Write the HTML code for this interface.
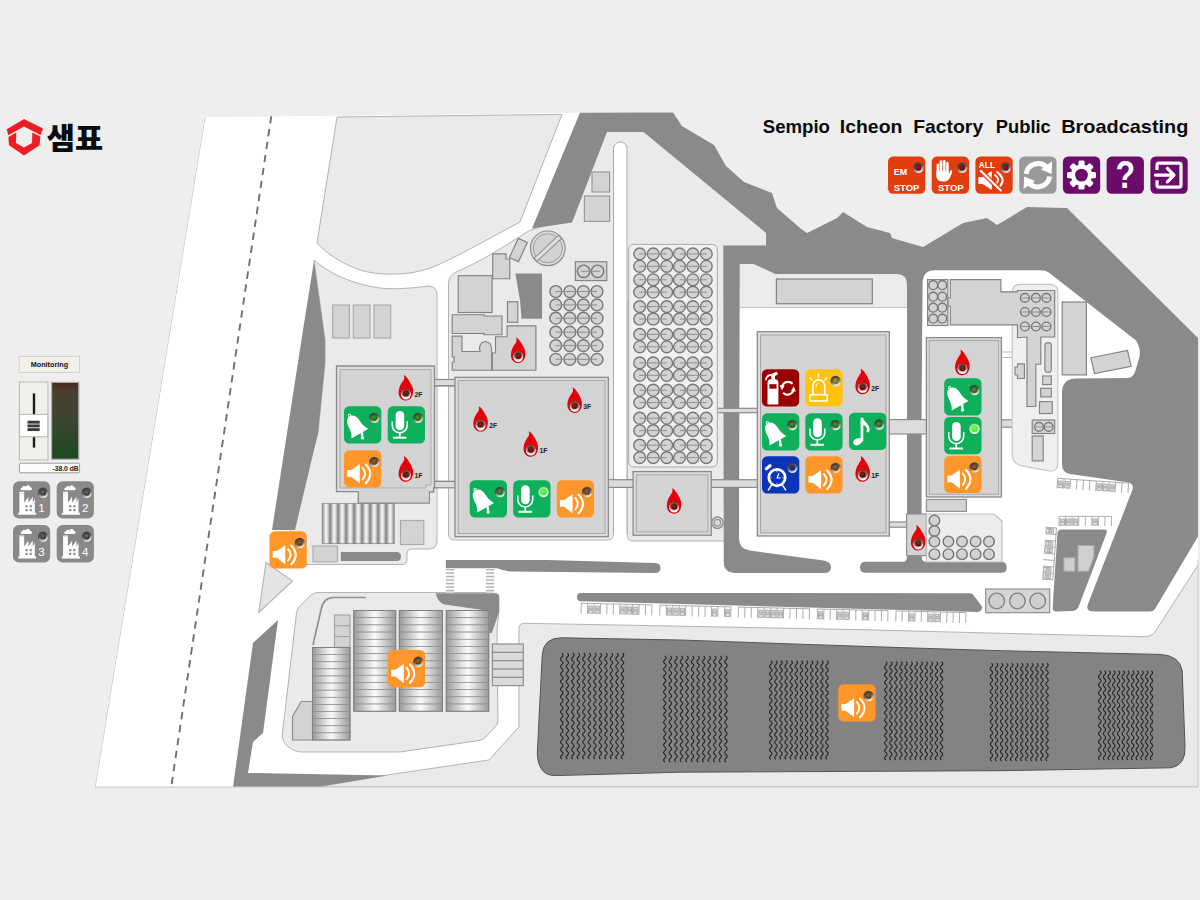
<!DOCTYPE html>
<html lang="ko"><head><meta charset="utf-8"><title>Sempio Icheon Factory Public Broadcasting</title>
<style>
html,body{margin:0;padding:0;background:#eeeeee;overflow:hidden}
body{width:1200px;height:900px;font-family:"Liberation Sans","Noto Sans CJK KR",sans-serif}
svg{display:block}
text{font-family:"Liberation Sans","Noto Sans CJK KR",sans-serif}
</style></head><body>
<svg width="1200" height="900" viewBox="0 0 1200 900">
<defs>
<linearGradient id="gv" x1="0" y1="0" x2="1" y2="0"><stop offset="0" stop-color="#8e8e8e"/><stop offset="0.5" stop-color="#fafafa"/><stop offset="1" stop-color="#8e8e8e"/></linearGradient>
<linearGradient id="gh" x1="0" y1="0" x2="1" y2="0"><stop offset="0" stop-color="#9a9a9a"/><stop offset="0.5" stop-color="#fbfbfb"/><stop offset="1" stop-color="#9a9a9a"/></linearGradient>
<clipPath id="mapclip"><polygon points="205,117 580,112.6 1198,107 1198,787 95,787"/></clipPath>
</defs>
<rect width="1200" height="900" fill="#eeeeee"/>
<g clip-path="url(#mapclip)">
<polygon points="205,117 580,112.6 673,112.6 682,126 714,145 726,166 744,182 772,193 777,208 800,228 807,233 837,218 843,212 867,227 890,233 892,238 923,247 963,223 987,218 997,225 1027,207 1067,208 1200,340 1200,787 95,787" fill="#ffffff" stroke="none" stroke-width="0"/>
<line x1="205" y1="117" x2="95" y2="787" stroke="#b8b8b8" stroke-width="1"/>
<line x1="271.3" y1="116" x2="171.2" y2="787" stroke="#707070" stroke-width="1.9" stroke-dasharray="7.4 5.7"/>
<path d="M337,117 L562,114.4 L520,222 C490,238 455,258 433,267 C410,276 380,276 360,270 C340,263 325,252 317,243 Z" fill="#eaeaea" stroke="#ababab" stroke-width="0.9"/>
<path d="M314,260 C330,274 352,284 380,288 C400,290 420,287 428,286 Q437,286 437,295 L437,541 Q437,549 429,549 L411,549 Q407,549 407,553 L407,560 Q407,564.5 402,564.5 L296,564.5 L290,530 L318,433 L325,363 L325,340 Z" fill="#eaeaea" stroke="#ababab" stroke-width="0.9"/>
<path d="M448.5,534 L448.5,284 Q448.5,275 457,271.5 C480,262 505,246 528.7,231 L545,225 L600,128 L650,128 L772,236 L772,252 L726,252 L726,541 L633,541 Q627,541 627,535 L627,300 L613.5,300 L613.5,534 Q613.5,540 607.5,540 L454.5,540 Q448.5,540 448.5,534 Z" fill="#eaeaea" stroke="#ababab" stroke-width="0.9"/>
<path d="M613.5,548 L613.5,148.7 A6.75,6.75 0 0 1 627,148.7 L627,548 Z" fill="#fff" stroke="none" stroke-width="0"/>
<path d="M613.5,535 L613.5,148.7 A6.75,6.75 0 0 1 627,148.7 L627,535" fill="none" stroke="#ababab" stroke-width="1"/>
<path d="M739.75,307.4 L739.75,262 L907,262 L907,307.4 Z" fill="#ebebeb" stroke="none" stroke-width="0"/>
<line x1="739.75" y1="307.4" x2="907" y2="307.4" stroke="#c2c2c2" stroke-width="1"/>
<path d="M317,787 L387,775 L489,760 L518.9,727 L518.9,629 Q518.9,623 525,623.3 L680,626.2 L860,629.6 L1000,633.3 L1144.4,636.7 Q1152,636.7 1155.6,631 L1200,562 L1200,787 Z" fill="#eaeaea" stroke="#ababab" stroke-width="0.9"/>
<path d="M310.88,595.29 Q313.75,592.5 317.75,592.5 L490.73,592.5 Q494,592.5 496.38,594.75 L497.3,595.62 Q498.75,597 498.75,599 L498.75,610.5 Q498.75,612.5 498.55,614.49 L497.2,628.01 Q497,630 497.02,632 L497.96,720 Q498,724 495.26,726.92 L485.74,737.08 Q483,740 479.04,740.57 L402.97,751.57 Q400,752 397,752 L302.33,752 Q294,752 287.75,746.5 L287.51,746.29 Q281.5,741 282.43,733.05 L296.53,612.72 Q297,608.75 299.87,605.96 Z" fill="#eaeaea" stroke="#ababab" stroke-width="0.9"/>
<polygon points="266,562.5 292.5,581 258.8,612.5" fill="#e4e4e4" stroke="#b5b5b5" stroke-width="1.15"/>
<polygon points="314,261 325,340 325,363 318,433 295,530 272,530 303,330" fill="#8a8a8a" stroke="none" stroke-width="0"/>
<polygon points="278,620 253,643 233,787 317,787 387,775.5 248,773 253,742 263,733" fill="#8a8a8a" stroke="none" stroke-width="0"/>
<path d="M580,112.6 L673,112.6 L682,126 L714,145 L726,166 L744,182 L772,193 L777,208 L800,228 L807,233 L837,218 L843,212 L867,227 L890,233 L892,238 L923,247 L963,223 L987,218 L997,225 L1027,207 L1067,208 L1200,340 L1200,533 L1155,609 Q1153,611.5 1150,611.5 L1094,611.5 Q1085,611.5 1088,604 L1132,491 Q1135,483.5 1127,482.3 L1070,474 Q1062,472.5 1062,464 L1062,393 Q1062,378.5 1076,378.5 L1128,378 Q1133,377.5 1135,372 L1139.5,357 Q1141,348 1136,340.6 L1050,273.5 Q1046,270.3 1040,270.3 L935,270.3 Q923,270.3 922.6,282.7 L921.6,400 L907,400 L907,285 Q907,274 896.5,274 L775.5,274 L753.5,264 L739.75,264 L739,538 Q739,549 750,550.6 L822,560.3 Q831,561.5 831,567 Q831,573 824,573 L736,573 Q723.75,573 723.75,562 L723.25,245.4 L766,245.4 L766,233 L643.5,132 L607,132 L572,222.6 L532,228.5 Z" fill="#8a8a8a" stroke="none" stroke-width="0"/>
<rect x="907" y="399" width="14.6" height="115.5" fill="#8a8a8a" stroke="none" stroke-width="0"/>
<rect x="907" y="555" width="14.6" height="11" fill="#8a8a8a" stroke="none" stroke-width="0"/>
<path d="M903,562 Q907,562 907,556 L921.6,556 Q921.6,562 926.5,562 Z" fill="#8a8a8a" stroke="none" stroke-width="0"/>
<path d="M445.8,560 L546.7,560 L655,563 Q660.5,563.2 660.5,568 Q660.5,573 655,573 L513.3,571.6 Q505,571.5 497,568.3 L445.8,568.3 Z" fill="#8a8a8a" stroke="none" stroke-width="0"/>
<path d="M860,567.2 Q860,561.7 865.5,561.7 L1001.2,561.7 Q1006.7,561.7 1006.7,567.2 L1006.7,567.2 Q1006.7,572.7 1001.2,572.7 L865.5,572.7 Q860,572.7 860,567.2 Z" fill="#8a8a8a" stroke="none" stroke-width="0"/>
<path d="M577,597 Q577,593 581,593 L970,593.2 Q972,593.2 973.19,594.81 L981.41,605.87 Q983,608 981.25,610 L980.82,610.49 Q979.5,612 977.5,611.95 L581,601.31 Q577,601.2 577,597.2 Z" fill="#8a8a8a" stroke="none" stroke-width="0"/>
<path d="M340.8,552 L396.5,552 Q401,552 401,556.5 L401,556.5 Q401,561 396.5,561 L340.8,561 Z" fill="#8a8a8a" stroke="none" stroke-width="0"/>
<path d="M1057.44,533.59 Q1057.7,529.6 1061.7,529.6 L1104,529.6 Q1108,529.6 1106.58,533.34 L1078.78,606.33 Q1077,611 1072,611.1 L1056.4,611.42 Q1052.4,611.5 1052.66,607.51 Z" fill="#8a8a8a" stroke="none" stroke-width="0"/>
<rect x="1063.9" y="557.8" width="11" height="13.4" fill="#cfcfcf" stroke="#aaa" stroke-width="1.15"/>
<polygon points="1078,545.5 1093.9,545.5 1093.9,557 1088.5,571.2 1078,571.2" fill="#cfcfcf" stroke="#aaa" stroke-width="1.15"/>
<polygon points="515.3,273.4 542,273.4 542,318.8 521.5,318.8 520,300" fill="#8a8a8a" stroke="none" stroke-width="0"/>
<path d="M562,637.8 L680,640 L800,644.2 L900,647.6 L1000,650.7 L1160,654.4 Q1180,655.5 1182.2,671 L1185,746.7 Q1186,765 1171,767.8 L1000,770.7 L680,772.2 L556,775.6 Q538,776 537.3,753.3 L542.2,655.6 Q543,637.5 562,637.8 Z" fill="#838383" stroke="#555555" stroke-width="1"/>
<path d="M561.8,653.3 Q564.3,655.19 561.8,657.07 Q559.3,658.96 561.8,660.85 Q564.3,662.74 561.8,664.62 Q559.3,666.51 561.8,668.4 Q564.3,670.29 561.8,672.17 Q559.3,674.06 561.8,675.95 Q564.3,677.84 561.8,679.72 Q559.3,681.61 561.8,683.5 Q564.3,685.39 561.8,687.27 Q559.3,689.16 561.8,691.05 Q564.3,692.94 561.8,694.82 Q559.3,696.71 561.8,698.6 Q564.3,700.49 561.8,702.38 Q559.3,704.26 561.8,706.15 Q564.3,708.04 561.8,709.92 Q559.3,711.81 561.8,713.7 Q564.3,715.59 561.8,717.47 Q559.3,719.36 561.8,721.25 Q564.3,723.14 561.8,725.02 Q559.3,726.91 561.8,728.8 Q564.3,730.69 561.8,732.57 Q559.3,734.46 561.8,736.35 Q564.3,738.24 561.8,740.12 Q559.3,742.01 561.8,743.9 Q564.3,745.79 561.8,747.67 Q559.3,749.56 561.8,751.45 Q564.3,753.34 561.8,755.23 Q559.3,757.11 561.8,759" fill="none" stroke="#262626" stroke-width="1.15"/>
<path d="M567.32,653.3 Q569.82,655.19 567.32,657.07 Q564.82,658.96 567.32,660.85 Q569.82,662.74 567.32,664.62 Q564.82,666.51 567.32,668.4 Q569.82,670.29 567.32,672.17 Q564.82,674.06 567.32,675.95 Q569.82,677.84 567.32,679.72 Q564.82,681.61 567.32,683.5 Q569.82,685.39 567.32,687.27 Q564.82,689.16 567.32,691.05 Q569.82,692.94 567.32,694.82 Q564.82,696.71 567.32,698.6 Q569.82,700.49 567.32,702.38 Q564.82,704.26 567.32,706.15 Q569.82,708.04 567.32,709.92 Q564.82,711.81 567.32,713.7 Q569.82,715.59 567.32,717.47 Q564.82,719.36 567.32,721.25 Q569.82,723.14 567.32,725.02 Q564.82,726.91 567.32,728.8 Q569.82,730.69 567.32,732.57 Q564.82,734.46 567.32,736.35 Q569.82,738.24 567.32,740.12 Q564.82,742.01 567.32,743.9 Q569.82,745.79 567.32,747.67 Q564.82,749.56 567.32,751.45 Q569.82,753.34 567.32,755.23 Q564.82,757.11 567.32,759" fill="none" stroke="#262626" stroke-width="1.15"/>
<path d="M572.84,653.3 Q575.34,655.19 572.84,657.07 Q570.34,658.96 572.84,660.85 Q575.34,662.74 572.84,664.62 Q570.34,666.51 572.84,668.4 Q575.34,670.29 572.84,672.17 Q570.34,674.06 572.84,675.95 Q575.34,677.84 572.84,679.72 Q570.34,681.61 572.84,683.5 Q575.34,685.39 572.84,687.27 Q570.34,689.16 572.84,691.05 Q575.34,692.94 572.84,694.82 Q570.34,696.71 572.84,698.6 Q575.34,700.49 572.84,702.38 Q570.34,704.26 572.84,706.15 Q575.34,708.04 572.84,709.92 Q570.34,711.81 572.84,713.7 Q575.34,715.59 572.84,717.47 Q570.34,719.36 572.84,721.25 Q575.34,723.14 572.84,725.02 Q570.34,726.91 572.84,728.8 Q575.34,730.69 572.84,732.57 Q570.34,734.46 572.84,736.35 Q575.34,738.24 572.84,740.12 Q570.34,742.01 572.84,743.9 Q575.34,745.79 572.84,747.67 Q570.34,749.56 572.84,751.45 Q575.34,753.34 572.84,755.23 Q570.34,757.11 572.84,759" fill="none" stroke="#262626" stroke-width="1.15"/>
<path d="M578.35,653.3 Q580.85,655.19 578.35,657.07 Q575.85,658.96 578.35,660.85 Q580.85,662.74 578.35,664.62 Q575.85,666.51 578.35,668.4 Q580.85,670.29 578.35,672.17 Q575.85,674.06 578.35,675.95 Q580.85,677.84 578.35,679.72 Q575.85,681.61 578.35,683.5 Q580.85,685.39 578.35,687.27 Q575.85,689.16 578.35,691.05 Q580.85,692.94 578.35,694.82 Q575.85,696.71 578.35,698.6 Q580.85,700.49 578.35,702.38 Q575.85,704.26 578.35,706.15 Q580.85,708.04 578.35,709.92 Q575.85,711.81 578.35,713.7 Q580.85,715.59 578.35,717.47 Q575.85,719.36 578.35,721.25 Q580.85,723.14 578.35,725.02 Q575.85,726.91 578.35,728.8 Q580.85,730.69 578.35,732.57 Q575.85,734.46 578.35,736.35 Q580.85,738.24 578.35,740.12 Q575.85,742.01 578.35,743.9 Q580.85,745.79 578.35,747.67 Q575.85,749.56 578.35,751.45 Q580.85,753.34 578.35,755.23 Q575.85,757.11 578.35,759" fill="none" stroke="#262626" stroke-width="1.15"/>
<path d="M583.87,653.3 Q586.37,655.19 583.87,657.07 Q581.37,658.96 583.87,660.85 Q586.37,662.74 583.87,664.62 Q581.37,666.51 583.87,668.4 Q586.37,670.29 583.87,672.17 Q581.37,674.06 583.87,675.95 Q586.37,677.84 583.87,679.72 Q581.37,681.61 583.87,683.5 Q586.37,685.39 583.87,687.27 Q581.37,689.16 583.87,691.05 Q586.37,692.94 583.87,694.82 Q581.37,696.71 583.87,698.6 Q586.37,700.49 583.87,702.38 Q581.37,704.26 583.87,706.15 Q586.37,708.04 583.87,709.92 Q581.37,711.81 583.87,713.7 Q586.37,715.59 583.87,717.47 Q581.37,719.36 583.87,721.25 Q586.37,723.14 583.87,725.02 Q581.37,726.91 583.87,728.8 Q586.37,730.69 583.87,732.57 Q581.37,734.46 583.87,736.35 Q586.37,738.24 583.87,740.12 Q581.37,742.01 583.87,743.9 Q586.37,745.79 583.87,747.67 Q581.37,749.56 583.87,751.45 Q586.37,753.34 583.87,755.23 Q581.37,757.11 583.87,759" fill="none" stroke="#262626" stroke-width="1.15"/>
<path d="M589.39,653.3 Q591.89,655.19 589.39,657.07 Q586.89,658.96 589.39,660.85 Q591.89,662.74 589.39,664.62 Q586.89,666.51 589.39,668.4 Q591.89,670.29 589.39,672.17 Q586.89,674.06 589.39,675.95 Q591.89,677.84 589.39,679.72 Q586.89,681.61 589.39,683.5 Q591.89,685.39 589.39,687.27 Q586.89,689.16 589.39,691.05 Q591.89,692.94 589.39,694.82 Q586.89,696.71 589.39,698.6 Q591.89,700.49 589.39,702.38 Q586.89,704.26 589.39,706.15 Q591.89,708.04 589.39,709.92 Q586.89,711.81 589.39,713.7 Q591.89,715.59 589.39,717.47 Q586.89,719.36 589.39,721.25 Q591.89,723.14 589.39,725.02 Q586.89,726.91 589.39,728.8 Q591.89,730.69 589.39,732.57 Q586.89,734.46 589.39,736.35 Q591.89,738.24 589.39,740.12 Q586.89,742.01 589.39,743.9 Q591.89,745.79 589.39,747.67 Q586.89,749.56 589.39,751.45 Q591.89,753.34 589.39,755.23 Q586.89,757.11 589.39,759" fill="none" stroke="#262626" stroke-width="1.15"/>
<path d="M594.91,653.3 Q597.41,655.19 594.91,657.07 Q592.41,658.96 594.91,660.85 Q597.41,662.74 594.91,664.62 Q592.41,666.51 594.91,668.4 Q597.41,670.29 594.91,672.17 Q592.41,674.06 594.91,675.95 Q597.41,677.84 594.91,679.72 Q592.41,681.61 594.91,683.5 Q597.41,685.39 594.91,687.27 Q592.41,689.16 594.91,691.05 Q597.41,692.94 594.91,694.82 Q592.41,696.71 594.91,698.6 Q597.41,700.49 594.91,702.38 Q592.41,704.26 594.91,706.15 Q597.41,708.04 594.91,709.92 Q592.41,711.81 594.91,713.7 Q597.41,715.59 594.91,717.47 Q592.41,719.36 594.91,721.25 Q597.41,723.14 594.91,725.02 Q592.41,726.91 594.91,728.8 Q597.41,730.69 594.91,732.57 Q592.41,734.46 594.91,736.35 Q597.41,738.24 594.91,740.12 Q592.41,742.01 594.91,743.9 Q597.41,745.79 594.91,747.67 Q592.41,749.56 594.91,751.45 Q597.41,753.34 594.91,755.23 Q592.41,757.11 594.91,759" fill="none" stroke="#262626" stroke-width="1.15"/>
<path d="M600.43,653.3 Q602.93,655.19 600.43,657.07 Q597.93,658.96 600.43,660.85 Q602.93,662.74 600.43,664.62 Q597.93,666.51 600.43,668.4 Q602.93,670.29 600.43,672.17 Q597.93,674.06 600.43,675.95 Q602.93,677.84 600.43,679.72 Q597.93,681.61 600.43,683.5 Q602.93,685.39 600.43,687.27 Q597.93,689.16 600.43,691.05 Q602.93,692.94 600.43,694.82 Q597.93,696.71 600.43,698.6 Q602.93,700.49 600.43,702.38 Q597.93,704.26 600.43,706.15 Q602.93,708.04 600.43,709.92 Q597.93,711.81 600.43,713.7 Q602.93,715.59 600.43,717.47 Q597.93,719.36 600.43,721.25 Q602.93,723.14 600.43,725.02 Q597.93,726.91 600.43,728.8 Q602.93,730.69 600.43,732.57 Q597.93,734.46 600.43,736.35 Q602.93,738.24 600.43,740.12 Q597.93,742.01 600.43,743.9 Q602.93,745.79 600.43,747.67 Q597.93,749.56 600.43,751.45 Q602.93,753.34 600.43,755.23 Q597.93,757.11 600.43,759" fill="none" stroke="#262626" stroke-width="1.15"/>
<path d="M605.95,653.3 Q608.45,655.19 605.95,657.07 Q603.45,658.96 605.95,660.85 Q608.45,662.74 605.95,664.62 Q603.45,666.51 605.95,668.4 Q608.45,670.29 605.95,672.17 Q603.45,674.06 605.95,675.95 Q608.45,677.84 605.95,679.72 Q603.45,681.61 605.95,683.5 Q608.45,685.39 605.95,687.27 Q603.45,689.16 605.95,691.05 Q608.45,692.94 605.95,694.82 Q603.45,696.71 605.95,698.6 Q608.45,700.49 605.95,702.38 Q603.45,704.26 605.95,706.15 Q608.45,708.04 605.95,709.92 Q603.45,711.81 605.95,713.7 Q608.45,715.59 605.95,717.47 Q603.45,719.36 605.95,721.25 Q608.45,723.14 605.95,725.02 Q603.45,726.91 605.95,728.8 Q608.45,730.69 605.95,732.57 Q603.45,734.46 605.95,736.35 Q608.45,738.24 605.95,740.12 Q603.45,742.01 605.95,743.9 Q608.45,745.79 605.95,747.67 Q603.45,749.56 605.95,751.45 Q608.45,753.34 605.95,755.23 Q603.45,757.11 605.95,759" fill="none" stroke="#262626" stroke-width="1.15"/>
<path d="M611.46,653.3 Q613.96,655.19 611.46,657.07 Q608.96,658.96 611.46,660.85 Q613.96,662.74 611.46,664.62 Q608.96,666.51 611.46,668.4 Q613.96,670.29 611.46,672.17 Q608.96,674.06 611.46,675.95 Q613.96,677.84 611.46,679.72 Q608.96,681.61 611.46,683.5 Q613.96,685.39 611.46,687.27 Q608.96,689.16 611.46,691.05 Q613.96,692.94 611.46,694.82 Q608.96,696.71 611.46,698.6 Q613.96,700.49 611.46,702.38 Q608.96,704.26 611.46,706.15 Q613.96,708.04 611.46,709.92 Q608.96,711.81 611.46,713.7 Q613.96,715.59 611.46,717.47 Q608.96,719.36 611.46,721.25 Q613.96,723.14 611.46,725.02 Q608.96,726.91 611.46,728.8 Q613.96,730.69 611.46,732.57 Q608.96,734.46 611.46,736.35 Q613.96,738.24 611.46,740.12 Q608.96,742.01 611.46,743.9 Q613.96,745.79 611.46,747.67 Q608.96,749.56 611.46,751.45 Q613.96,753.34 611.46,755.23 Q608.96,757.11 611.46,759" fill="none" stroke="#262626" stroke-width="1.15"/>
<path d="M616.98,653.3 Q619.48,655.19 616.98,657.07 Q614.48,658.96 616.98,660.85 Q619.48,662.74 616.98,664.62 Q614.48,666.51 616.98,668.4 Q619.48,670.29 616.98,672.17 Q614.48,674.06 616.98,675.95 Q619.48,677.84 616.98,679.72 Q614.48,681.61 616.98,683.5 Q619.48,685.39 616.98,687.27 Q614.48,689.16 616.98,691.05 Q619.48,692.94 616.98,694.82 Q614.48,696.71 616.98,698.6 Q619.48,700.49 616.98,702.38 Q614.48,704.26 616.98,706.15 Q619.48,708.04 616.98,709.92 Q614.48,711.81 616.98,713.7 Q619.48,715.59 616.98,717.47 Q614.48,719.36 616.98,721.25 Q619.48,723.14 616.98,725.02 Q614.48,726.91 616.98,728.8 Q619.48,730.69 616.98,732.57 Q614.48,734.46 616.98,736.35 Q619.48,738.24 616.98,740.12 Q614.48,742.01 616.98,743.9 Q619.48,745.79 616.98,747.67 Q614.48,749.56 616.98,751.45 Q619.48,753.34 616.98,755.23 Q614.48,757.11 616.98,759" fill="none" stroke="#262626" stroke-width="1.15"/>
<path d="M622.5,653.3 Q625,655.19 622.5,657.07 Q620,658.96 622.5,660.85 Q625,662.74 622.5,664.62 Q620,666.51 622.5,668.4 Q625,670.29 622.5,672.17 Q620,674.06 622.5,675.95 Q625,677.84 622.5,679.72 Q620,681.61 622.5,683.5 Q625,685.39 622.5,687.27 Q620,689.16 622.5,691.05 Q625,692.94 622.5,694.82 Q620,696.71 622.5,698.6 Q625,700.49 622.5,702.38 Q620,704.26 622.5,706.15 Q625,708.04 622.5,709.92 Q620,711.81 622.5,713.7 Q625,715.59 622.5,717.47 Q620,719.36 622.5,721.25 Q625,723.14 622.5,725.02 Q620,726.91 622.5,728.8 Q625,730.69 622.5,732.57 Q620,734.46 622.5,736.35 Q625,738.24 622.5,740.12 Q620,742.01 622.5,743.9 Q625,745.79 622.5,747.67 Q620,749.56 622.5,751.45 Q625,753.34 622.5,755.23 Q620,757.11 622.5,759" fill="none" stroke="#262626" stroke-width="1.15"/>
<path d="M664.8,656 Q667.3,657.89 664.8,659.79 Q662.3,661.68 664.8,663.57 Q667.3,665.46 664.8,667.36 Q662.3,669.25 664.8,671.14 Q667.3,673.04 664.8,674.93 Q662.3,676.82 664.8,678.71 Q667.3,680.61 664.8,682.5 Q662.3,684.39 664.8,686.29 Q667.3,688.18 664.8,690.07 Q662.3,691.96 664.8,693.86 Q667.3,695.75 664.8,697.64 Q662.3,699.54 664.8,701.43 Q667.3,703.32 664.8,705.21 Q662.3,707.11 664.8,709 Q667.3,710.89 664.8,712.79 Q662.3,714.68 664.8,716.57 Q667.3,718.46 664.8,720.36 Q662.3,722.25 664.8,724.14 Q667.3,726.04 664.8,727.93 Q662.3,729.82 664.8,731.71 Q667.3,733.61 664.8,735.5 Q662.3,737.39 664.8,739.29 Q667.3,741.18 664.8,743.07 Q662.3,744.96 664.8,746.86 Q667.3,748.75 664.8,750.64 Q662.3,752.54 664.8,754.43 Q667.3,756.32 664.8,758.21 Q662.3,760.11 664.8,762" fill="none" stroke="#262626" stroke-width="1.15"/>
<path d="M670.35,656 Q672.85,657.89 670.35,659.79 Q667.85,661.68 670.35,663.57 Q672.85,665.46 670.35,667.36 Q667.85,669.25 670.35,671.14 Q672.85,673.04 670.35,674.93 Q667.85,676.82 670.35,678.71 Q672.85,680.61 670.35,682.5 Q667.85,684.39 670.35,686.29 Q672.85,688.18 670.35,690.07 Q667.85,691.96 670.35,693.86 Q672.85,695.75 670.35,697.64 Q667.85,699.54 670.35,701.43 Q672.85,703.32 670.35,705.21 Q667.85,707.11 670.35,709 Q672.85,710.89 670.35,712.79 Q667.85,714.68 670.35,716.57 Q672.85,718.46 670.35,720.36 Q667.85,722.25 670.35,724.14 Q672.85,726.04 670.35,727.93 Q667.85,729.82 670.35,731.71 Q672.85,733.61 670.35,735.5 Q667.85,737.39 670.35,739.29 Q672.85,741.18 670.35,743.07 Q667.85,744.96 670.35,746.86 Q672.85,748.75 670.35,750.64 Q667.85,752.54 670.35,754.43 Q672.85,756.32 670.35,758.21 Q667.85,760.11 670.35,762" fill="none" stroke="#262626" stroke-width="1.15"/>
<path d="M675.91,656 Q678.41,657.89 675.91,659.79 Q673.41,661.68 675.91,663.57 Q678.41,665.46 675.91,667.36 Q673.41,669.25 675.91,671.14 Q678.41,673.04 675.91,674.93 Q673.41,676.82 675.91,678.71 Q678.41,680.61 675.91,682.5 Q673.41,684.39 675.91,686.29 Q678.41,688.18 675.91,690.07 Q673.41,691.96 675.91,693.86 Q678.41,695.75 675.91,697.64 Q673.41,699.54 675.91,701.43 Q678.41,703.32 675.91,705.21 Q673.41,707.11 675.91,709 Q678.41,710.89 675.91,712.79 Q673.41,714.68 675.91,716.57 Q678.41,718.46 675.91,720.36 Q673.41,722.25 675.91,724.14 Q678.41,726.04 675.91,727.93 Q673.41,729.82 675.91,731.71 Q678.41,733.61 675.91,735.5 Q673.41,737.39 675.91,739.29 Q678.41,741.18 675.91,743.07 Q673.41,744.96 675.91,746.86 Q678.41,748.75 675.91,750.64 Q673.41,752.54 675.91,754.43 Q678.41,756.32 675.91,758.21 Q673.41,760.11 675.91,762" fill="none" stroke="#262626" stroke-width="1.15"/>
<path d="M681.46,656 Q683.96,657.89 681.46,659.79 Q678.96,661.68 681.46,663.57 Q683.96,665.46 681.46,667.36 Q678.96,669.25 681.46,671.14 Q683.96,673.04 681.46,674.93 Q678.96,676.82 681.46,678.71 Q683.96,680.61 681.46,682.5 Q678.96,684.39 681.46,686.29 Q683.96,688.18 681.46,690.07 Q678.96,691.96 681.46,693.86 Q683.96,695.75 681.46,697.64 Q678.96,699.54 681.46,701.43 Q683.96,703.32 681.46,705.21 Q678.96,707.11 681.46,709 Q683.96,710.89 681.46,712.79 Q678.96,714.68 681.46,716.57 Q683.96,718.46 681.46,720.36 Q678.96,722.25 681.46,724.14 Q683.96,726.04 681.46,727.93 Q678.96,729.82 681.46,731.71 Q683.96,733.61 681.46,735.5 Q678.96,737.39 681.46,739.29 Q683.96,741.18 681.46,743.07 Q678.96,744.96 681.46,746.86 Q683.96,748.75 681.46,750.64 Q678.96,752.54 681.46,754.43 Q683.96,756.32 681.46,758.21 Q678.96,760.11 681.46,762" fill="none" stroke="#262626" stroke-width="1.15"/>
<path d="M687.02,656 Q689.52,657.89 687.02,659.79 Q684.52,661.68 687.02,663.57 Q689.52,665.46 687.02,667.36 Q684.52,669.25 687.02,671.14 Q689.52,673.04 687.02,674.93 Q684.52,676.82 687.02,678.71 Q689.52,680.61 687.02,682.5 Q684.52,684.39 687.02,686.29 Q689.52,688.18 687.02,690.07 Q684.52,691.96 687.02,693.86 Q689.52,695.75 687.02,697.64 Q684.52,699.54 687.02,701.43 Q689.52,703.32 687.02,705.21 Q684.52,707.11 687.02,709 Q689.52,710.89 687.02,712.79 Q684.52,714.68 687.02,716.57 Q689.52,718.46 687.02,720.36 Q684.52,722.25 687.02,724.14 Q689.52,726.04 687.02,727.93 Q684.52,729.82 687.02,731.71 Q689.52,733.61 687.02,735.5 Q684.52,737.39 687.02,739.29 Q689.52,741.18 687.02,743.07 Q684.52,744.96 687.02,746.86 Q689.52,748.75 687.02,750.64 Q684.52,752.54 687.02,754.43 Q689.52,756.32 687.02,758.21 Q684.52,760.11 687.02,762" fill="none" stroke="#262626" stroke-width="1.15"/>
<path d="M692.57,656 Q695.07,657.89 692.57,659.79 Q690.07,661.68 692.57,663.57 Q695.07,665.46 692.57,667.36 Q690.07,669.25 692.57,671.14 Q695.07,673.04 692.57,674.93 Q690.07,676.82 692.57,678.71 Q695.07,680.61 692.57,682.5 Q690.07,684.39 692.57,686.29 Q695.07,688.18 692.57,690.07 Q690.07,691.96 692.57,693.86 Q695.07,695.75 692.57,697.64 Q690.07,699.54 692.57,701.43 Q695.07,703.32 692.57,705.21 Q690.07,707.11 692.57,709 Q695.07,710.89 692.57,712.79 Q690.07,714.68 692.57,716.57 Q695.07,718.46 692.57,720.36 Q690.07,722.25 692.57,724.14 Q695.07,726.04 692.57,727.93 Q690.07,729.82 692.57,731.71 Q695.07,733.61 692.57,735.5 Q690.07,737.39 692.57,739.29 Q695.07,741.18 692.57,743.07 Q690.07,744.96 692.57,746.86 Q695.07,748.75 692.57,750.64 Q690.07,752.54 692.57,754.43 Q695.07,756.32 692.57,758.21 Q690.07,760.11 692.57,762" fill="none" stroke="#262626" stroke-width="1.15"/>
<path d="M698.13,656 Q700.63,657.89 698.13,659.79 Q695.63,661.68 698.13,663.57 Q700.63,665.46 698.13,667.36 Q695.63,669.25 698.13,671.14 Q700.63,673.04 698.13,674.93 Q695.63,676.82 698.13,678.71 Q700.63,680.61 698.13,682.5 Q695.63,684.39 698.13,686.29 Q700.63,688.18 698.13,690.07 Q695.63,691.96 698.13,693.86 Q700.63,695.75 698.13,697.64 Q695.63,699.54 698.13,701.43 Q700.63,703.32 698.13,705.21 Q695.63,707.11 698.13,709 Q700.63,710.89 698.13,712.79 Q695.63,714.68 698.13,716.57 Q700.63,718.46 698.13,720.36 Q695.63,722.25 698.13,724.14 Q700.63,726.04 698.13,727.93 Q695.63,729.82 698.13,731.71 Q700.63,733.61 698.13,735.5 Q695.63,737.39 698.13,739.29 Q700.63,741.18 698.13,743.07 Q695.63,744.96 698.13,746.86 Q700.63,748.75 698.13,750.64 Q695.63,752.54 698.13,754.43 Q700.63,756.32 698.13,758.21 Q695.63,760.11 698.13,762" fill="none" stroke="#262626" stroke-width="1.15"/>
<path d="M703.68,656 Q706.18,657.89 703.68,659.79 Q701.18,661.68 703.68,663.57 Q706.18,665.46 703.68,667.36 Q701.18,669.25 703.68,671.14 Q706.18,673.04 703.68,674.93 Q701.18,676.82 703.68,678.71 Q706.18,680.61 703.68,682.5 Q701.18,684.39 703.68,686.29 Q706.18,688.18 703.68,690.07 Q701.18,691.96 703.68,693.86 Q706.18,695.75 703.68,697.64 Q701.18,699.54 703.68,701.43 Q706.18,703.32 703.68,705.21 Q701.18,707.11 703.68,709 Q706.18,710.89 703.68,712.79 Q701.18,714.68 703.68,716.57 Q706.18,718.46 703.68,720.36 Q701.18,722.25 703.68,724.14 Q706.18,726.04 703.68,727.93 Q701.18,729.82 703.68,731.71 Q706.18,733.61 703.68,735.5 Q701.18,737.39 703.68,739.29 Q706.18,741.18 703.68,743.07 Q701.18,744.96 703.68,746.86 Q706.18,748.75 703.68,750.64 Q701.18,752.54 703.68,754.43 Q706.18,756.32 703.68,758.21 Q701.18,760.11 703.68,762" fill="none" stroke="#262626" stroke-width="1.15"/>
<path d="M709.24,656 Q711.74,657.89 709.24,659.79 Q706.74,661.68 709.24,663.57 Q711.74,665.46 709.24,667.36 Q706.74,669.25 709.24,671.14 Q711.74,673.04 709.24,674.93 Q706.74,676.82 709.24,678.71 Q711.74,680.61 709.24,682.5 Q706.74,684.39 709.24,686.29 Q711.74,688.18 709.24,690.07 Q706.74,691.96 709.24,693.86 Q711.74,695.75 709.24,697.64 Q706.74,699.54 709.24,701.43 Q711.74,703.32 709.24,705.21 Q706.74,707.11 709.24,709 Q711.74,710.89 709.24,712.79 Q706.74,714.68 709.24,716.57 Q711.74,718.46 709.24,720.36 Q706.74,722.25 709.24,724.14 Q711.74,726.04 709.24,727.93 Q706.74,729.82 709.24,731.71 Q711.74,733.61 709.24,735.5 Q706.74,737.39 709.24,739.29 Q711.74,741.18 709.24,743.07 Q706.74,744.96 709.24,746.86 Q711.74,748.75 709.24,750.64 Q706.74,752.54 709.24,754.43 Q711.74,756.32 709.24,758.21 Q706.74,760.11 709.24,762" fill="none" stroke="#262626" stroke-width="1.15"/>
<path d="M714.79,656 Q717.29,657.89 714.79,659.79 Q712.29,661.68 714.79,663.57 Q717.29,665.46 714.79,667.36 Q712.29,669.25 714.79,671.14 Q717.29,673.04 714.79,674.93 Q712.29,676.82 714.79,678.71 Q717.29,680.61 714.79,682.5 Q712.29,684.39 714.79,686.29 Q717.29,688.18 714.79,690.07 Q712.29,691.96 714.79,693.86 Q717.29,695.75 714.79,697.64 Q712.29,699.54 714.79,701.43 Q717.29,703.32 714.79,705.21 Q712.29,707.11 714.79,709 Q717.29,710.89 714.79,712.79 Q712.29,714.68 714.79,716.57 Q717.29,718.46 714.79,720.36 Q712.29,722.25 714.79,724.14 Q717.29,726.04 714.79,727.93 Q712.29,729.82 714.79,731.71 Q717.29,733.61 714.79,735.5 Q712.29,737.39 714.79,739.29 Q717.29,741.18 714.79,743.07 Q712.29,744.96 714.79,746.86 Q717.29,748.75 714.79,750.64 Q712.29,752.54 714.79,754.43 Q717.29,756.32 714.79,758.21 Q712.29,760.11 714.79,762" fill="none" stroke="#262626" stroke-width="1.15"/>
<path d="M720.35,656 Q722.85,657.89 720.35,659.79 Q717.85,661.68 720.35,663.57 Q722.85,665.46 720.35,667.36 Q717.85,669.25 720.35,671.14 Q722.85,673.04 720.35,674.93 Q717.85,676.82 720.35,678.71 Q722.85,680.61 720.35,682.5 Q717.85,684.39 720.35,686.29 Q722.85,688.18 720.35,690.07 Q717.85,691.96 720.35,693.86 Q722.85,695.75 720.35,697.64 Q717.85,699.54 720.35,701.43 Q722.85,703.32 720.35,705.21 Q717.85,707.11 720.35,709 Q722.85,710.89 720.35,712.79 Q717.85,714.68 720.35,716.57 Q722.85,718.46 720.35,720.36 Q717.85,722.25 720.35,724.14 Q722.85,726.04 720.35,727.93 Q717.85,729.82 720.35,731.71 Q722.85,733.61 720.35,735.5 Q717.85,737.39 720.35,739.29 Q722.85,741.18 720.35,743.07 Q717.85,744.96 720.35,746.86 Q722.85,748.75 720.35,750.64 Q717.85,752.54 720.35,754.43 Q722.85,756.32 720.35,758.21 Q717.85,760.11 720.35,762" fill="none" stroke="#262626" stroke-width="1.15"/>
<path d="M725.9,656 Q728.4,657.89 725.9,659.79 Q723.4,661.68 725.9,663.57 Q728.4,665.46 725.9,667.36 Q723.4,669.25 725.9,671.14 Q728.4,673.04 725.9,674.93 Q723.4,676.82 725.9,678.71 Q728.4,680.61 725.9,682.5 Q723.4,684.39 725.9,686.29 Q728.4,688.18 725.9,690.07 Q723.4,691.96 725.9,693.86 Q728.4,695.75 725.9,697.64 Q723.4,699.54 725.9,701.43 Q728.4,703.32 725.9,705.21 Q723.4,707.11 725.9,709 Q728.4,710.89 725.9,712.79 Q723.4,714.68 725.9,716.57 Q728.4,718.46 725.9,720.36 Q723.4,722.25 725.9,724.14 Q728.4,726.04 725.9,727.93 Q723.4,729.82 725.9,731.71 Q728.4,733.61 725.9,735.5 Q723.4,737.39 725.9,739.29 Q728.4,741.18 725.9,743.07 Q723.4,744.96 725.9,746.86 Q728.4,748.75 725.9,750.64 Q723.4,752.54 725.9,754.43 Q728.4,756.32 725.9,758.21 Q723.4,760.11 725.9,762" fill="none" stroke="#262626" stroke-width="1.15"/>
<path d="M770.8,660.7 Q773.3,662.6 770.8,664.49 Q768.3,666.39 770.8,668.28 Q773.3,670.18 770.8,672.08 Q768.3,673.97 770.8,675.87 Q773.3,677.77 770.8,679.66 Q768.3,681.56 770.8,683.45 Q773.3,685.35 770.8,687.25 Q768.3,689.14 770.8,691.04 Q773.3,692.93 770.8,694.83 Q768.3,696.73 770.8,698.62 Q773.3,700.52 770.8,702.42 Q768.3,704.31 770.8,706.21 Q773.3,708.1 770.8,710 Q768.3,711.9 770.8,713.79 Q773.3,715.69 770.8,717.58 Q768.3,719.48 770.8,721.38 Q773.3,723.27 770.8,725.17 Q768.3,727.07 770.8,728.96 Q773.3,730.86 770.8,732.75 Q768.3,734.65 770.8,736.55 Q773.3,738.44 770.8,740.34 Q768.3,742.23 770.8,744.13 Q773.3,746.03 770.8,747.92 Q768.3,749.82 770.8,751.72 Q773.3,753.61 770.8,755.51 Q768.3,757.4 770.8,759.3" fill="none" stroke="#262626" stroke-width="1.15"/>
<path d="M775.91,660.7 Q778.41,662.6 775.91,664.49 Q773.41,666.39 775.91,668.28 Q778.41,670.18 775.91,672.08 Q773.41,673.97 775.91,675.87 Q778.41,677.77 775.91,679.66 Q773.41,681.56 775.91,683.45 Q778.41,685.35 775.91,687.25 Q773.41,689.14 775.91,691.04 Q778.41,692.93 775.91,694.83 Q773.41,696.73 775.91,698.62 Q778.41,700.52 775.91,702.42 Q773.41,704.31 775.91,706.21 Q778.41,708.1 775.91,710 Q773.41,711.9 775.91,713.79 Q778.41,715.69 775.91,717.58 Q773.41,719.48 775.91,721.38 Q778.41,723.27 775.91,725.17 Q773.41,727.07 775.91,728.96 Q778.41,730.86 775.91,732.75 Q773.41,734.65 775.91,736.55 Q778.41,738.44 775.91,740.34 Q773.41,742.23 775.91,744.13 Q778.41,746.03 775.91,747.92 Q773.41,749.82 775.91,751.72 Q778.41,753.61 775.91,755.51 Q773.41,757.4 775.91,759.3" fill="none" stroke="#262626" stroke-width="1.15"/>
<path d="M781.02,660.7 Q783.52,662.6 781.02,664.49 Q778.52,666.39 781.02,668.28 Q783.52,670.18 781.02,672.08 Q778.52,673.97 781.02,675.87 Q783.52,677.77 781.02,679.66 Q778.52,681.56 781.02,683.45 Q783.52,685.35 781.02,687.25 Q778.52,689.14 781.02,691.04 Q783.52,692.93 781.02,694.83 Q778.52,696.73 781.02,698.62 Q783.52,700.52 781.02,702.42 Q778.52,704.31 781.02,706.21 Q783.52,708.1 781.02,710 Q778.52,711.9 781.02,713.79 Q783.52,715.69 781.02,717.58 Q778.52,719.48 781.02,721.38 Q783.52,723.27 781.02,725.17 Q778.52,727.07 781.02,728.96 Q783.52,730.86 781.02,732.75 Q778.52,734.65 781.02,736.55 Q783.52,738.44 781.02,740.34 Q778.52,742.23 781.02,744.13 Q783.52,746.03 781.02,747.92 Q778.52,749.82 781.02,751.72 Q783.52,753.61 781.02,755.51 Q778.52,757.4 781.02,759.3" fill="none" stroke="#262626" stroke-width="1.15"/>
<path d="M786.13,660.7 Q788.63,662.6 786.13,664.49 Q783.63,666.39 786.13,668.28 Q788.63,670.18 786.13,672.08 Q783.63,673.97 786.13,675.87 Q788.63,677.77 786.13,679.66 Q783.63,681.56 786.13,683.45 Q788.63,685.35 786.13,687.25 Q783.63,689.14 786.13,691.04 Q788.63,692.93 786.13,694.83 Q783.63,696.73 786.13,698.62 Q788.63,700.52 786.13,702.42 Q783.63,704.31 786.13,706.21 Q788.63,708.1 786.13,710 Q783.63,711.9 786.13,713.79 Q788.63,715.69 786.13,717.58 Q783.63,719.48 786.13,721.38 Q788.63,723.27 786.13,725.17 Q783.63,727.07 786.13,728.96 Q788.63,730.86 786.13,732.75 Q783.63,734.65 786.13,736.55 Q788.63,738.44 786.13,740.34 Q783.63,742.23 786.13,744.13 Q788.63,746.03 786.13,747.92 Q783.63,749.82 786.13,751.72 Q788.63,753.61 786.13,755.51 Q783.63,757.4 786.13,759.3" fill="none" stroke="#262626" stroke-width="1.15"/>
<path d="M791.24,660.7 Q793.74,662.6 791.24,664.49 Q788.74,666.39 791.24,668.28 Q793.74,670.18 791.24,672.08 Q788.74,673.97 791.24,675.87 Q793.74,677.77 791.24,679.66 Q788.74,681.56 791.24,683.45 Q793.74,685.35 791.24,687.25 Q788.74,689.14 791.24,691.04 Q793.74,692.93 791.24,694.83 Q788.74,696.73 791.24,698.62 Q793.74,700.52 791.24,702.42 Q788.74,704.31 791.24,706.21 Q793.74,708.1 791.24,710 Q788.74,711.9 791.24,713.79 Q793.74,715.69 791.24,717.58 Q788.74,719.48 791.24,721.38 Q793.74,723.27 791.24,725.17 Q788.74,727.07 791.24,728.96 Q793.74,730.86 791.24,732.75 Q788.74,734.65 791.24,736.55 Q793.74,738.44 791.24,740.34 Q788.74,742.23 791.24,744.13 Q793.74,746.03 791.24,747.92 Q788.74,749.82 791.24,751.72 Q793.74,753.61 791.24,755.51 Q788.74,757.4 791.24,759.3" fill="none" stroke="#262626" stroke-width="1.15"/>
<path d="M796.35,660.7 Q798.85,662.6 796.35,664.49 Q793.85,666.39 796.35,668.28 Q798.85,670.18 796.35,672.08 Q793.85,673.97 796.35,675.87 Q798.85,677.77 796.35,679.66 Q793.85,681.56 796.35,683.45 Q798.85,685.35 796.35,687.25 Q793.85,689.14 796.35,691.04 Q798.85,692.93 796.35,694.83 Q793.85,696.73 796.35,698.62 Q798.85,700.52 796.35,702.42 Q793.85,704.31 796.35,706.21 Q798.85,708.1 796.35,710 Q793.85,711.9 796.35,713.79 Q798.85,715.69 796.35,717.58 Q793.85,719.48 796.35,721.38 Q798.85,723.27 796.35,725.17 Q793.85,727.07 796.35,728.96 Q798.85,730.86 796.35,732.75 Q793.85,734.65 796.35,736.55 Q798.85,738.44 796.35,740.34 Q793.85,742.23 796.35,744.13 Q798.85,746.03 796.35,747.92 Q793.85,749.82 796.35,751.72 Q798.85,753.61 796.35,755.51 Q793.85,757.4 796.35,759.3" fill="none" stroke="#262626" stroke-width="1.15"/>
<path d="M801.45,660.7 Q803.95,662.6 801.45,664.49 Q798.95,666.39 801.45,668.28 Q803.95,670.18 801.45,672.08 Q798.95,673.97 801.45,675.87 Q803.95,677.77 801.45,679.66 Q798.95,681.56 801.45,683.45 Q803.95,685.35 801.45,687.25 Q798.95,689.14 801.45,691.04 Q803.95,692.93 801.45,694.83 Q798.95,696.73 801.45,698.62 Q803.95,700.52 801.45,702.42 Q798.95,704.31 801.45,706.21 Q803.95,708.1 801.45,710 Q798.95,711.9 801.45,713.79 Q803.95,715.69 801.45,717.58 Q798.95,719.48 801.45,721.38 Q803.95,723.27 801.45,725.17 Q798.95,727.07 801.45,728.96 Q803.95,730.86 801.45,732.75 Q798.95,734.65 801.45,736.55 Q803.95,738.44 801.45,740.34 Q798.95,742.23 801.45,744.13 Q803.95,746.03 801.45,747.92 Q798.95,749.82 801.45,751.72 Q803.95,753.61 801.45,755.51 Q798.95,757.4 801.45,759.3" fill="none" stroke="#262626" stroke-width="1.15"/>
<path d="M806.56,660.7 Q809.06,662.6 806.56,664.49 Q804.06,666.39 806.56,668.28 Q809.06,670.18 806.56,672.08 Q804.06,673.97 806.56,675.87 Q809.06,677.77 806.56,679.66 Q804.06,681.56 806.56,683.45 Q809.06,685.35 806.56,687.25 Q804.06,689.14 806.56,691.04 Q809.06,692.93 806.56,694.83 Q804.06,696.73 806.56,698.62 Q809.06,700.52 806.56,702.42 Q804.06,704.31 806.56,706.21 Q809.06,708.1 806.56,710 Q804.06,711.9 806.56,713.79 Q809.06,715.69 806.56,717.58 Q804.06,719.48 806.56,721.38 Q809.06,723.27 806.56,725.17 Q804.06,727.07 806.56,728.96 Q809.06,730.86 806.56,732.75 Q804.06,734.65 806.56,736.55 Q809.06,738.44 806.56,740.34 Q804.06,742.23 806.56,744.13 Q809.06,746.03 806.56,747.92 Q804.06,749.82 806.56,751.72 Q809.06,753.61 806.56,755.51 Q804.06,757.4 806.56,759.3" fill="none" stroke="#262626" stroke-width="1.15"/>
<path d="M811.67,660.7 Q814.17,662.6 811.67,664.49 Q809.17,666.39 811.67,668.28 Q814.17,670.18 811.67,672.08 Q809.17,673.97 811.67,675.87 Q814.17,677.77 811.67,679.66 Q809.17,681.56 811.67,683.45 Q814.17,685.35 811.67,687.25 Q809.17,689.14 811.67,691.04 Q814.17,692.93 811.67,694.83 Q809.17,696.73 811.67,698.62 Q814.17,700.52 811.67,702.42 Q809.17,704.31 811.67,706.21 Q814.17,708.1 811.67,710 Q809.17,711.9 811.67,713.79 Q814.17,715.69 811.67,717.58 Q809.17,719.48 811.67,721.38 Q814.17,723.27 811.67,725.17 Q809.17,727.07 811.67,728.96 Q814.17,730.86 811.67,732.75 Q809.17,734.65 811.67,736.55 Q814.17,738.44 811.67,740.34 Q809.17,742.23 811.67,744.13 Q814.17,746.03 811.67,747.92 Q809.17,749.82 811.67,751.72 Q814.17,753.61 811.67,755.51 Q809.17,757.4 811.67,759.3" fill="none" stroke="#262626" stroke-width="1.15"/>
<path d="M816.78,660.7 Q819.28,662.6 816.78,664.49 Q814.28,666.39 816.78,668.28 Q819.28,670.18 816.78,672.08 Q814.28,673.97 816.78,675.87 Q819.28,677.77 816.78,679.66 Q814.28,681.56 816.78,683.45 Q819.28,685.35 816.78,687.25 Q814.28,689.14 816.78,691.04 Q819.28,692.93 816.78,694.83 Q814.28,696.73 816.78,698.62 Q819.28,700.52 816.78,702.42 Q814.28,704.31 816.78,706.21 Q819.28,708.1 816.78,710 Q814.28,711.9 816.78,713.79 Q819.28,715.69 816.78,717.58 Q814.28,719.48 816.78,721.38 Q819.28,723.27 816.78,725.17 Q814.28,727.07 816.78,728.96 Q819.28,730.86 816.78,732.75 Q814.28,734.65 816.78,736.55 Q819.28,738.44 816.78,740.34 Q814.28,742.23 816.78,744.13 Q819.28,746.03 816.78,747.92 Q814.28,749.82 816.78,751.72 Q819.28,753.61 816.78,755.51 Q814.28,757.4 816.78,759.3" fill="none" stroke="#262626" stroke-width="1.15"/>
<path d="M821.89,660.7 Q824.39,662.6 821.89,664.49 Q819.39,666.39 821.89,668.28 Q824.39,670.18 821.89,672.08 Q819.39,673.97 821.89,675.87 Q824.39,677.77 821.89,679.66 Q819.39,681.56 821.89,683.45 Q824.39,685.35 821.89,687.25 Q819.39,689.14 821.89,691.04 Q824.39,692.93 821.89,694.83 Q819.39,696.73 821.89,698.62 Q824.39,700.52 821.89,702.42 Q819.39,704.31 821.89,706.21 Q824.39,708.1 821.89,710 Q819.39,711.9 821.89,713.79 Q824.39,715.69 821.89,717.58 Q819.39,719.48 821.89,721.38 Q824.39,723.27 821.89,725.17 Q819.39,727.07 821.89,728.96 Q824.39,730.86 821.89,732.75 Q819.39,734.65 821.89,736.55 Q824.39,738.44 821.89,740.34 Q819.39,742.23 821.89,744.13 Q824.39,746.03 821.89,747.92 Q819.39,749.82 821.89,751.72 Q824.39,753.61 821.89,755.51 Q819.39,757.4 821.89,759.3" fill="none" stroke="#262626" stroke-width="1.15"/>
<path d="M827,660.7 Q829.5,662.6 827,664.49 Q824.5,666.39 827,668.28 Q829.5,670.18 827,672.08 Q824.5,673.97 827,675.87 Q829.5,677.77 827,679.66 Q824.5,681.56 827,683.45 Q829.5,685.35 827,687.25 Q824.5,689.14 827,691.04 Q829.5,692.93 827,694.83 Q824.5,696.73 827,698.62 Q829.5,700.52 827,702.42 Q824.5,704.31 827,706.21 Q829.5,708.1 827,710 Q824.5,711.9 827,713.79 Q829.5,715.69 827,717.58 Q824.5,719.48 827,721.38 Q829.5,723.27 827,725.17 Q824.5,727.07 827,728.96 Q829.5,730.86 827,732.75 Q824.5,734.65 827,736.55 Q829.5,738.44 827,740.34 Q824.5,742.23 827,744.13 Q829.5,746.03 827,747.92 Q824.5,749.82 827,751.72 Q829.5,753.61 827,755.51 Q824.5,757.4 827,759.3" fill="none" stroke="#262626" stroke-width="1.15"/>
<path d="M885.8,661.7 Q888.3,663.59 885.8,665.48 Q883.3,667.37 885.8,669.26 Q888.3,671.15 885.8,673.04 Q883.3,674.93 885.8,676.82 Q888.3,678.71 885.8,680.6 Q883.3,682.49 885.8,684.38 Q888.3,686.28 885.8,688.17 Q883.3,690.06 885.8,691.95 Q888.3,693.84 885.8,695.73 Q883.3,697.62 885.8,699.51 Q888.3,701.4 885.8,703.29 Q883.3,705.18 885.8,707.07 Q888.3,708.96 885.8,710.85 Q883.3,712.74 885.8,714.63 Q888.3,716.52 885.8,718.41 Q883.3,720.3 885.8,722.19 Q888.3,724.08 885.8,725.97 Q883.3,727.86 885.8,729.75 Q888.3,731.64 885.8,733.53 Q883.3,735.43 885.8,737.32 Q888.3,739.21 885.8,741.1 Q883.3,742.99 885.8,744.88 Q888.3,746.77 885.8,748.66 Q883.3,750.55 885.8,752.44 Q888.3,754.33 885.8,756.22 Q883.3,758.11 885.8,760" fill="none" stroke="#262626" stroke-width="1.15"/>
<path d="M890.86,661.7 Q893.36,663.59 890.86,665.48 Q888.36,667.37 890.86,669.26 Q893.36,671.15 890.86,673.04 Q888.36,674.93 890.86,676.82 Q893.36,678.71 890.86,680.6 Q888.36,682.49 890.86,684.38 Q893.36,686.28 890.86,688.17 Q888.36,690.06 890.86,691.95 Q893.36,693.84 890.86,695.73 Q888.36,697.62 890.86,699.51 Q893.36,701.4 890.86,703.29 Q888.36,705.18 890.86,707.07 Q893.36,708.96 890.86,710.85 Q888.36,712.74 890.86,714.63 Q893.36,716.52 890.86,718.41 Q888.36,720.3 890.86,722.19 Q893.36,724.08 890.86,725.97 Q888.36,727.86 890.86,729.75 Q893.36,731.64 890.86,733.53 Q888.36,735.43 890.86,737.32 Q893.36,739.21 890.86,741.1 Q888.36,742.99 890.86,744.88 Q893.36,746.77 890.86,748.66 Q888.36,750.55 890.86,752.44 Q893.36,754.33 890.86,756.22 Q888.36,758.11 890.86,760" fill="none" stroke="#262626" stroke-width="1.15"/>
<path d="M895.93,661.7 Q898.43,663.59 895.93,665.48 Q893.43,667.37 895.93,669.26 Q898.43,671.15 895.93,673.04 Q893.43,674.93 895.93,676.82 Q898.43,678.71 895.93,680.6 Q893.43,682.49 895.93,684.38 Q898.43,686.28 895.93,688.17 Q893.43,690.06 895.93,691.95 Q898.43,693.84 895.93,695.73 Q893.43,697.62 895.93,699.51 Q898.43,701.4 895.93,703.29 Q893.43,705.18 895.93,707.07 Q898.43,708.96 895.93,710.85 Q893.43,712.74 895.93,714.63 Q898.43,716.52 895.93,718.41 Q893.43,720.3 895.93,722.19 Q898.43,724.08 895.93,725.97 Q893.43,727.86 895.93,729.75 Q898.43,731.64 895.93,733.53 Q893.43,735.43 895.93,737.32 Q898.43,739.21 895.93,741.1 Q893.43,742.99 895.93,744.88 Q898.43,746.77 895.93,748.66 Q893.43,750.55 895.93,752.44 Q898.43,754.33 895.93,756.22 Q893.43,758.11 895.93,760" fill="none" stroke="#262626" stroke-width="1.15"/>
<path d="M900.99,661.7 Q903.49,663.59 900.99,665.48 Q898.49,667.37 900.99,669.26 Q903.49,671.15 900.99,673.04 Q898.49,674.93 900.99,676.82 Q903.49,678.71 900.99,680.6 Q898.49,682.49 900.99,684.38 Q903.49,686.28 900.99,688.17 Q898.49,690.06 900.99,691.95 Q903.49,693.84 900.99,695.73 Q898.49,697.62 900.99,699.51 Q903.49,701.4 900.99,703.29 Q898.49,705.18 900.99,707.07 Q903.49,708.96 900.99,710.85 Q898.49,712.74 900.99,714.63 Q903.49,716.52 900.99,718.41 Q898.49,720.3 900.99,722.19 Q903.49,724.08 900.99,725.97 Q898.49,727.86 900.99,729.75 Q903.49,731.64 900.99,733.53 Q898.49,735.43 900.99,737.32 Q903.49,739.21 900.99,741.1 Q898.49,742.99 900.99,744.88 Q903.49,746.77 900.99,748.66 Q898.49,750.55 900.99,752.44 Q903.49,754.33 900.99,756.22 Q898.49,758.11 900.99,760" fill="none" stroke="#262626" stroke-width="1.15"/>
<path d="M906.05,661.7 Q908.55,663.59 906.05,665.48 Q903.55,667.37 906.05,669.26 Q908.55,671.15 906.05,673.04 Q903.55,674.93 906.05,676.82 Q908.55,678.71 906.05,680.6 Q903.55,682.49 906.05,684.38 Q908.55,686.28 906.05,688.17 Q903.55,690.06 906.05,691.95 Q908.55,693.84 906.05,695.73 Q903.55,697.62 906.05,699.51 Q908.55,701.4 906.05,703.29 Q903.55,705.18 906.05,707.07 Q908.55,708.96 906.05,710.85 Q903.55,712.74 906.05,714.63 Q908.55,716.52 906.05,718.41 Q903.55,720.3 906.05,722.19 Q908.55,724.08 906.05,725.97 Q903.55,727.86 906.05,729.75 Q908.55,731.64 906.05,733.53 Q903.55,735.43 906.05,737.32 Q908.55,739.21 906.05,741.1 Q903.55,742.99 906.05,744.88 Q908.55,746.77 906.05,748.66 Q903.55,750.55 906.05,752.44 Q908.55,754.33 906.05,756.22 Q903.55,758.11 906.05,760" fill="none" stroke="#262626" stroke-width="1.15"/>
<path d="M911.12,661.7 Q913.62,663.59 911.12,665.48 Q908.62,667.37 911.12,669.26 Q913.62,671.15 911.12,673.04 Q908.62,674.93 911.12,676.82 Q913.62,678.71 911.12,680.6 Q908.62,682.49 911.12,684.38 Q913.62,686.28 911.12,688.17 Q908.62,690.06 911.12,691.95 Q913.62,693.84 911.12,695.73 Q908.62,697.62 911.12,699.51 Q913.62,701.4 911.12,703.29 Q908.62,705.18 911.12,707.07 Q913.62,708.96 911.12,710.85 Q908.62,712.74 911.12,714.63 Q913.62,716.52 911.12,718.41 Q908.62,720.3 911.12,722.19 Q913.62,724.08 911.12,725.97 Q908.62,727.86 911.12,729.75 Q913.62,731.64 911.12,733.53 Q908.62,735.43 911.12,737.32 Q913.62,739.21 911.12,741.1 Q908.62,742.99 911.12,744.88 Q913.62,746.77 911.12,748.66 Q908.62,750.55 911.12,752.44 Q913.62,754.33 911.12,756.22 Q908.62,758.11 911.12,760" fill="none" stroke="#262626" stroke-width="1.15"/>
<path d="M916.18,661.7 Q918.68,663.59 916.18,665.48 Q913.68,667.37 916.18,669.26 Q918.68,671.15 916.18,673.04 Q913.68,674.93 916.18,676.82 Q918.68,678.71 916.18,680.6 Q913.68,682.49 916.18,684.38 Q918.68,686.28 916.18,688.17 Q913.68,690.06 916.18,691.95 Q918.68,693.84 916.18,695.73 Q913.68,697.62 916.18,699.51 Q918.68,701.4 916.18,703.29 Q913.68,705.18 916.18,707.07 Q918.68,708.96 916.18,710.85 Q913.68,712.74 916.18,714.63 Q918.68,716.52 916.18,718.41 Q913.68,720.3 916.18,722.19 Q918.68,724.08 916.18,725.97 Q913.68,727.86 916.18,729.75 Q918.68,731.64 916.18,733.53 Q913.68,735.43 916.18,737.32 Q918.68,739.21 916.18,741.1 Q913.68,742.99 916.18,744.88 Q918.68,746.77 916.18,748.66 Q913.68,750.55 916.18,752.44 Q918.68,754.33 916.18,756.22 Q913.68,758.11 916.18,760" fill="none" stroke="#262626" stroke-width="1.15"/>
<path d="M921.25,661.7 Q923.75,663.59 921.25,665.48 Q918.75,667.37 921.25,669.26 Q923.75,671.15 921.25,673.04 Q918.75,674.93 921.25,676.82 Q923.75,678.71 921.25,680.6 Q918.75,682.49 921.25,684.38 Q923.75,686.28 921.25,688.17 Q918.75,690.06 921.25,691.95 Q923.75,693.84 921.25,695.73 Q918.75,697.62 921.25,699.51 Q923.75,701.4 921.25,703.29 Q918.75,705.18 921.25,707.07 Q923.75,708.96 921.25,710.85 Q918.75,712.74 921.25,714.63 Q923.75,716.52 921.25,718.41 Q918.75,720.3 921.25,722.19 Q923.75,724.08 921.25,725.97 Q918.75,727.86 921.25,729.75 Q923.75,731.64 921.25,733.53 Q918.75,735.43 921.25,737.32 Q923.75,739.21 921.25,741.1 Q918.75,742.99 921.25,744.88 Q923.75,746.77 921.25,748.66 Q918.75,750.55 921.25,752.44 Q923.75,754.33 921.25,756.22 Q918.75,758.11 921.25,760" fill="none" stroke="#262626" stroke-width="1.15"/>
<path d="M926.31,661.7 Q928.81,663.59 926.31,665.48 Q923.81,667.37 926.31,669.26 Q928.81,671.15 926.31,673.04 Q923.81,674.93 926.31,676.82 Q928.81,678.71 926.31,680.6 Q923.81,682.49 926.31,684.38 Q928.81,686.28 926.31,688.17 Q923.81,690.06 926.31,691.95 Q928.81,693.84 926.31,695.73 Q923.81,697.62 926.31,699.51 Q928.81,701.4 926.31,703.29 Q923.81,705.18 926.31,707.07 Q928.81,708.96 926.31,710.85 Q923.81,712.74 926.31,714.63 Q928.81,716.52 926.31,718.41 Q923.81,720.3 926.31,722.19 Q928.81,724.08 926.31,725.97 Q923.81,727.86 926.31,729.75 Q928.81,731.64 926.31,733.53 Q923.81,735.43 926.31,737.32 Q928.81,739.21 926.31,741.1 Q923.81,742.99 926.31,744.88 Q928.81,746.77 926.31,748.66 Q923.81,750.55 926.31,752.44 Q928.81,754.33 926.31,756.22 Q923.81,758.11 926.31,760" fill="none" stroke="#262626" stroke-width="1.15"/>
<path d="M931.37,661.7 Q933.87,663.59 931.37,665.48 Q928.87,667.37 931.37,669.26 Q933.87,671.15 931.37,673.04 Q928.87,674.93 931.37,676.82 Q933.87,678.71 931.37,680.6 Q928.87,682.49 931.37,684.38 Q933.87,686.28 931.37,688.17 Q928.87,690.06 931.37,691.95 Q933.87,693.84 931.37,695.73 Q928.87,697.62 931.37,699.51 Q933.87,701.4 931.37,703.29 Q928.87,705.18 931.37,707.07 Q933.87,708.96 931.37,710.85 Q928.87,712.74 931.37,714.63 Q933.87,716.52 931.37,718.41 Q928.87,720.3 931.37,722.19 Q933.87,724.08 931.37,725.97 Q928.87,727.86 931.37,729.75 Q933.87,731.64 931.37,733.53 Q928.87,735.43 931.37,737.32 Q933.87,739.21 931.37,741.1 Q928.87,742.99 931.37,744.88 Q933.87,746.77 931.37,748.66 Q928.87,750.55 931.37,752.44 Q933.87,754.33 931.37,756.22 Q928.87,758.11 931.37,760" fill="none" stroke="#262626" stroke-width="1.15"/>
<path d="M936.44,661.7 Q938.94,663.59 936.44,665.48 Q933.94,667.37 936.44,669.26 Q938.94,671.15 936.44,673.04 Q933.94,674.93 936.44,676.82 Q938.94,678.71 936.44,680.6 Q933.94,682.49 936.44,684.38 Q938.94,686.28 936.44,688.17 Q933.94,690.06 936.44,691.95 Q938.94,693.84 936.44,695.73 Q933.94,697.62 936.44,699.51 Q938.94,701.4 936.44,703.29 Q933.94,705.18 936.44,707.07 Q938.94,708.96 936.44,710.85 Q933.94,712.74 936.44,714.63 Q938.94,716.52 936.44,718.41 Q933.94,720.3 936.44,722.19 Q938.94,724.08 936.44,725.97 Q933.94,727.86 936.44,729.75 Q938.94,731.64 936.44,733.53 Q933.94,735.43 936.44,737.32 Q938.94,739.21 936.44,741.1 Q933.94,742.99 936.44,744.88 Q938.94,746.77 936.44,748.66 Q933.94,750.55 936.44,752.44 Q938.94,754.33 936.44,756.22 Q933.94,758.11 936.44,760" fill="none" stroke="#262626" stroke-width="1.15"/>
<path d="M941.5,661.7 Q944,663.59 941.5,665.48 Q939,667.37 941.5,669.26 Q944,671.15 941.5,673.04 Q939,674.93 941.5,676.82 Q944,678.71 941.5,680.6 Q939,682.49 941.5,684.38 Q944,686.28 941.5,688.17 Q939,690.06 941.5,691.95 Q944,693.84 941.5,695.73 Q939,697.62 941.5,699.51 Q944,701.4 941.5,703.29 Q939,705.18 941.5,707.07 Q944,708.96 941.5,710.85 Q939,712.74 941.5,714.63 Q944,716.52 941.5,718.41 Q939,720.3 941.5,722.19 Q944,724.08 941.5,725.97 Q939,727.86 941.5,729.75 Q944,731.64 941.5,733.53 Q939,735.43 941.5,737.32 Q944,739.21 941.5,741.1 Q939,742.99 941.5,744.88 Q944,746.77 941.5,748.66 Q939,750.55 941.5,752.44 Q944,754.33 941.5,756.22 Q939,758.11 941.5,760" fill="none" stroke="#262626" stroke-width="1.15"/>
<path d="M991.5,663.3 Q994,665.18 991.5,667.06 Q989,668.94 991.5,670.82 Q994,672.69 991.5,674.57 Q989,676.45 991.5,678.33 Q994,680.21 991.5,682.09 Q989,683.97 991.5,685.85 Q994,687.72 991.5,689.6 Q989,691.48 991.5,693.36 Q994,695.24 991.5,697.12 Q989,699 991.5,700.88 Q994,702.76 991.5,704.63 Q989,706.51 991.5,708.39 Q994,710.27 991.5,712.15 Q989,714.03 991.5,715.91 Q994,717.79 991.5,719.67 Q989,721.54 991.5,723.42 Q994,725.3 991.5,727.18 Q989,729.06 991.5,730.94 Q994,732.82 991.5,734.7 Q989,736.58 991.5,738.45 Q994,740.33 991.5,742.21 Q989,744.09 991.5,745.97 Q994,747.85 991.5,749.73 Q989,751.61 991.5,753.48 Q994,755.36 991.5,757.24 Q989,759.12 991.5,761" fill="none" stroke="#262626" stroke-width="1.15"/>
<path d="M996.55,663.3 Q999.05,665.18 996.55,667.06 Q994.05,668.94 996.55,670.82 Q999.05,672.69 996.55,674.57 Q994.05,676.45 996.55,678.33 Q999.05,680.21 996.55,682.09 Q994.05,683.97 996.55,685.85 Q999.05,687.72 996.55,689.6 Q994.05,691.48 996.55,693.36 Q999.05,695.24 996.55,697.12 Q994.05,699 996.55,700.88 Q999.05,702.76 996.55,704.63 Q994.05,706.51 996.55,708.39 Q999.05,710.27 996.55,712.15 Q994.05,714.03 996.55,715.91 Q999.05,717.79 996.55,719.67 Q994.05,721.54 996.55,723.42 Q999.05,725.3 996.55,727.18 Q994.05,729.06 996.55,730.94 Q999.05,732.82 996.55,734.7 Q994.05,736.58 996.55,738.45 Q999.05,740.33 996.55,742.21 Q994.05,744.09 996.55,745.97 Q999.05,747.85 996.55,749.73 Q994.05,751.61 996.55,753.48 Q999.05,755.36 996.55,757.24 Q994.05,759.12 996.55,761" fill="none" stroke="#262626" stroke-width="1.15"/>
<path d="M1001.59,663.3 Q1004.09,665.18 1001.59,667.06 Q999.09,668.94 1001.59,670.82 Q1004.09,672.69 1001.59,674.57 Q999.09,676.45 1001.59,678.33 Q1004.09,680.21 1001.59,682.09 Q999.09,683.97 1001.59,685.85 Q1004.09,687.72 1001.59,689.6 Q999.09,691.48 1001.59,693.36 Q1004.09,695.24 1001.59,697.12 Q999.09,699 1001.59,700.88 Q1004.09,702.76 1001.59,704.63 Q999.09,706.51 1001.59,708.39 Q1004.09,710.27 1001.59,712.15 Q999.09,714.03 1001.59,715.91 Q1004.09,717.79 1001.59,719.67 Q999.09,721.54 1001.59,723.42 Q1004.09,725.3 1001.59,727.18 Q999.09,729.06 1001.59,730.94 Q1004.09,732.82 1001.59,734.7 Q999.09,736.58 1001.59,738.45 Q1004.09,740.33 1001.59,742.21 Q999.09,744.09 1001.59,745.97 Q1004.09,747.85 1001.59,749.73 Q999.09,751.61 1001.59,753.48 Q1004.09,755.36 1001.59,757.24 Q999.09,759.12 1001.59,761" fill="none" stroke="#262626" stroke-width="1.15"/>
<path d="M1006.64,663.3 Q1009.14,665.18 1006.64,667.06 Q1004.14,668.94 1006.64,670.82 Q1009.14,672.69 1006.64,674.57 Q1004.14,676.45 1006.64,678.33 Q1009.14,680.21 1006.64,682.09 Q1004.14,683.97 1006.64,685.85 Q1009.14,687.72 1006.64,689.6 Q1004.14,691.48 1006.64,693.36 Q1009.14,695.24 1006.64,697.12 Q1004.14,699 1006.64,700.88 Q1009.14,702.76 1006.64,704.63 Q1004.14,706.51 1006.64,708.39 Q1009.14,710.27 1006.64,712.15 Q1004.14,714.03 1006.64,715.91 Q1009.14,717.79 1006.64,719.67 Q1004.14,721.54 1006.64,723.42 Q1009.14,725.3 1006.64,727.18 Q1004.14,729.06 1006.64,730.94 Q1009.14,732.82 1006.64,734.7 Q1004.14,736.58 1006.64,738.45 Q1009.14,740.33 1006.64,742.21 Q1004.14,744.09 1006.64,745.97 Q1009.14,747.85 1006.64,749.73 Q1004.14,751.61 1006.64,753.48 Q1009.14,755.36 1006.64,757.24 Q1004.14,759.12 1006.64,761" fill="none" stroke="#262626" stroke-width="1.15"/>
<path d="M1011.68,663.3 Q1014.18,665.18 1011.68,667.06 Q1009.18,668.94 1011.68,670.82 Q1014.18,672.69 1011.68,674.57 Q1009.18,676.45 1011.68,678.33 Q1014.18,680.21 1011.68,682.09 Q1009.18,683.97 1011.68,685.85 Q1014.18,687.72 1011.68,689.6 Q1009.18,691.48 1011.68,693.36 Q1014.18,695.24 1011.68,697.12 Q1009.18,699 1011.68,700.88 Q1014.18,702.76 1011.68,704.63 Q1009.18,706.51 1011.68,708.39 Q1014.18,710.27 1011.68,712.15 Q1009.18,714.03 1011.68,715.91 Q1014.18,717.79 1011.68,719.67 Q1009.18,721.54 1011.68,723.42 Q1014.18,725.3 1011.68,727.18 Q1009.18,729.06 1011.68,730.94 Q1014.18,732.82 1011.68,734.7 Q1009.18,736.58 1011.68,738.45 Q1014.18,740.33 1011.68,742.21 Q1009.18,744.09 1011.68,745.97 Q1014.18,747.85 1011.68,749.73 Q1009.18,751.61 1011.68,753.48 Q1014.18,755.36 1011.68,757.24 Q1009.18,759.12 1011.68,761" fill="none" stroke="#262626" stroke-width="1.15"/>
<path d="M1016.73,663.3 Q1019.23,665.18 1016.73,667.06 Q1014.23,668.94 1016.73,670.82 Q1019.23,672.69 1016.73,674.57 Q1014.23,676.45 1016.73,678.33 Q1019.23,680.21 1016.73,682.09 Q1014.23,683.97 1016.73,685.85 Q1019.23,687.72 1016.73,689.6 Q1014.23,691.48 1016.73,693.36 Q1019.23,695.24 1016.73,697.12 Q1014.23,699 1016.73,700.88 Q1019.23,702.76 1016.73,704.63 Q1014.23,706.51 1016.73,708.39 Q1019.23,710.27 1016.73,712.15 Q1014.23,714.03 1016.73,715.91 Q1019.23,717.79 1016.73,719.67 Q1014.23,721.54 1016.73,723.42 Q1019.23,725.3 1016.73,727.18 Q1014.23,729.06 1016.73,730.94 Q1019.23,732.82 1016.73,734.7 Q1014.23,736.58 1016.73,738.45 Q1019.23,740.33 1016.73,742.21 Q1014.23,744.09 1016.73,745.97 Q1019.23,747.85 1016.73,749.73 Q1014.23,751.61 1016.73,753.48 Q1019.23,755.36 1016.73,757.24 Q1014.23,759.12 1016.73,761" fill="none" stroke="#262626" stroke-width="1.15"/>
<path d="M1021.77,663.3 Q1024.27,665.18 1021.77,667.06 Q1019.27,668.94 1021.77,670.82 Q1024.27,672.69 1021.77,674.57 Q1019.27,676.45 1021.77,678.33 Q1024.27,680.21 1021.77,682.09 Q1019.27,683.97 1021.77,685.85 Q1024.27,687.72 1021.77,689.6 Q1019.27,691.48 1021.77,693.36 Q1024.27,695.24 1021.77,697.12 Q1019.27,699 1021.77,700.88 Q1024.27,702.76 1021.77,704.63 Q1019.27,706.51 1021.77,708.39 Q1024.27,710.27 1021.77,712.15 Q1019.27,714.03 1021.77,715.91 Q1024.27,717.79 1021.77,719.67 Q1019.27,721.54 1021.77,723.42 Q1024.27,725.3 1021.77,727.18 Q1019.27,729.06 1021.77,730.94 Q1024.27,732.82 1021.77,734.7 Q1019.27,736.58 1021.77,738.45 Q1024.27,740.33 1021.77,742.21 Q1019.27,744.09 1021.77,745.97 Q1024.27,747.85 1021.77,749.73 Q1019.27,751.61 1021.77,753.48 Q1024.27,755.36 1021.77,757.24 Q1019.27,759.12 1021.77,761" fill="none" stroke="#262626" stroke-width="1.15"/>
<path d="M1026.82,663.3 Q1029.32,665.18 1026.82,667.06 Q1024.32,668.94 1026.82,670.82 Q1029.32,672.69 1026.82,674.57 Q1024.32,676.45 1026.82,678.33 Q1029.32,680.21 1026.82,682.09 Q1024.32,683.97 1026.82,685.85 Q1029.32,687.72 1026.82,689.6 Q1024.32,691.48 1026.82,693.36 Q1029.32,695.24 1026.82,697.12 Q1024.32,699 1026.82,700.88 Q1029.32,702.76 1026.82,704.63 Q1024.32,706.51 1026.82,708.39 Q1029.32,710.27 1026.82,712.15 Q1024.32,714.03 1026.82,715.91 Q1029.32,717.79 1026.82,719.67 Q1024.32,721.54 1026.82,723.42 Q1029.32,725.3 1026.82,727.18 Q1024.32,729.06 1026.82,730.94 Q1029.32,732.82 1026.82,734.7 Q1024.32,736.58 1026.82,738.45 Q1029.32,740.33 1026.82,742.21 Q1024.32,744.09 1026.82,745.97 Q1029.32,747.85 1026.82,749.73 Q1024.32,751.61 1026.82,753.48 Q1029.32,755.36 1026.82,757.24 Q1024.32,759.12 1026.82,761" fill="none" stroke="#262626" stroke-width="1.15"/>
<path d="M1031.86,663.3 Q1034.36,665.18 1031.86,667.06 Q1029.36,668.94 1031.86,670.82 Q1034.36,672.69 1031.86,674.57 Q1029.36,676.45 1031.86,678.33 Q1034.36,680.21 1031.86,682.09 Q1029.36,683.97 1031.86,685.85 Q1034.36,687.72 1031.86,689.6 Q1029.36,691.48 1031.86,693.36 Q1034.36,695.24 1031.86,697.12 Q1029.36,699 1031.86,700.88 Q1034.36,702.76 1031.86,704.63 Q1029.36,706.51 1031.86,708.39 Q1034.36,710.27 1031.86,712.15 Q1029.36,714.03 1031.86,715.91 Q1034.36,717.79 1031.86,719.67 Q1029.36,721.54 1031.86,723.42 Q1034.36,725.3 1031.86,727.18 Q1029.36,729.06 1031.86,730.94 Q1034.36,732.82 1031.86,734.7 Q1029.36,736.58 1031.86,738.45 Q1034.36,740.33 1031.86,742.21 Q1029.36,744.09 1031.86,745.97 Q1034.36,747.85 1031.86,749.73 Q1029.36,751.61 1031.86,753.48 Q1034.36,755.36 1031.86,757.24 Q1029.36,759.12 1031.86,761" fill="none" stroke="#262626" stroke-width="1.15"/>
<path d="M1036.91,663.3 Q1039.41,665.18 1036.91,667.06 Q1034.41,668.94 1036.91,670.82 Q1039.41,672.69 1036.91,674.57 Q1034.41,676.45 1036.91,678.33 Q1039.41,680.21 1036.91,682.09 Q1034.41,683.97 1036.91,685.85 Q1039.41,687.72 1036.91,689.6 Q1034.41,691.48 1036.91,693.36 Q1039.41,695.24 1036.91,697.12 Q1034.41,699 1036.91,700.88 Q1039.41,702.76 1036.91,704.63 Q1034.41,706.51 1036.91,708.39 Q1039.41,710.27 1036.91,712.15 Q1034.41,714.03 1036.91,715.91 Q1039.41,717.79 1036.91,719.67 Q1034.41,721.54 1036.91,723.42 Q1039.41,725.3 1036.91,727.18 Q1034.41,729.06 1036.91,730.94 Q1039.41,732.82 1036.91,734.7 Q1034.41,736.58 1036.91,738.45 Q1039.41,740.33 1036.91,742.21 Q1034.41,744.09 1036.91,745.97 Q1039.41,747.85 1036.91,749.73 Q1034.41,751.61 1036.91,753.48 Q1039.41,755.36 1036.91,757.24 Q1034.41,759.12 1036.91,761" fill="none" stroke="#262626" stroke-width="1.15"/>
<path d="M1041.95,663.3 Q1044.45,665.18 1041.95,667.06 Q1039.45,668.94 1041.95,670.82 Q1044.45,672.69 1041.95,674.57 Q1039.45,676.45 1041.95,678.33 Q1044.45,680.21 1041.95,682.09 Q1039.45,683.97 1041.95,685.85 Q1044.45,687.72 1041.95,689.6 Q1039.45,691.48 1041.95,693.36 Q1044.45,695.24 1041.95,697.12 Q1039.45,699 1041.95,700.88 Q1044.45,702.76 1041.95,704.63 Q1039.45,706.51 1041.95,708.39 Q1044.45,710.27 1041.95,712.15 Q1039.45,714.03 1041.95,715.91 Q1044.45,717.79 1041.95,719.67 Q1039.45,721.54 1041.95,723.42 Q1044.45,725.3 1041.95,727.18 Q1039.45,729.06 1041.95,730.94 Q1044.45,732.82 1041.95,734.7 Q1039.45,736.58 1041.95,738.45 Q1044.45,740.33 1041.95,742.21 Q1039.45,744.09 1041.95,745.97 Q1044.45,747.85 1041.95,749.73 Q1039.45,751.61 1041.95,753.48 Q1044.45,755.36 1041.95,757.24 Q1039.45,759.12 1041.95,761" fill="none" stroke="#262626" stroke-width="1.15"/>
<path d="M1047,663.3 Q1049.5,665.18 1047,667.06 Q1044.5,668.94 1047,670.82 Q1049.5,672.69 1047,674.57 Q1044.5,676.45 1047,678.33 Q1049.5,680.21 1047,682.09 Q1044.5,683.97 1047,685.85 Q1049.5,687.72 1047,689.6 Q1044.5,691.48 1047,693.36 Q1049.5,695.24 1047,697.12 Q1044.5,699 1047,700.88 Q1049.5,702.76 1047,704.63 Q1044.5,706.51 1047,708.39 Q1049.5,710.27 1047,712.15 Q1044.5,714.03 1047,715.91 Q1049.5,717.79 1047,719.67 Q1044.5,721.54 1047,723.42 Q1049.5,725.3 1047,727.18 Q1044.5,729.06 1047,730.94 Q1049.5,732.82 1047,734.7 Q1044.5,736.58 1047,738.45 Q1049.5,740.33 1047,742.21 Q1044.5,744.09 1047,745.97 Q1049.5,747.85 1047,749.73 Q1044.5,751.61 1047,753.48 Q1049.5,755.36 1047,757.24 Q1044.5,759.12 1047,761" fill="none" stroke="#262626" stroke-width="1.15"/>
<path d="M1099.8,670.7 Q1102.3,672.73 1099.8,674.76 Q1097.3,676.79 1099.8,678.82 Q1102.3,680.85 1099.8,682.88 Q1097.3,684.91 1099.8,686.94 Q1102.3,688.97 1099.8,691 Q1097.3,693.03 1099.8,695.05 Q1102.3,697.08 1099.8,699.11 Q1097.3,701.14 1099.8,703.17 Q1102.3,705.2 1099.8,707.23 Q1097.3,709.26 1099.8,711.29 Q1102.3,713.32 1099.8,715.35 Q1097.3,717.38 1099.8,719.41 Q1102.3,721.44 1099.8,723.47 Q1097.3,725.5 1099.8,727.53 Q1102.3,729.56 1099.8,731.59 Q1097.3,733.62 1099.8,735.65 Q1102.3,737.67 1099.8,739.7 Q1097.3,741.73 1099.8,743.76 Q1102.3,745.79 1099.8,747.82 Q1097.3,749.85 1099.8,751.88 Q1102.3,753.91 1099.8,755.94 Q1097.3,757.97 1099.8,760" fill="none" stroke="#262626" stroke-width="1.15"/>
<path d="M1104.49,670.7 Q1106.99,672.73 1104.49,674.76 Q1101.99,676.79 1104.49,678.82 Q1106.99,680.85 1104.49,682.88 Q1101.99,684.91 1104.49,686.94 Q1106.99,688.97 1104.49,691 Q1101.99,693.03 1104.49,695.05 Q1106.99,697.08 1104.49,699.11 Q1101.99,701.14 1104.49,703.17 Q1106.99,705.2 1104.49,707.23 Q1101.99,709.26 1104.49,711.29 Q1106.99,713.32 1104.49,715.35 Q1101.99,717.38 1104.49,719.41 Q1106.99,721.44 1104.49,723.47 Q1101.99,725.5 1104.49,727.53 Q1106.99,729.56 1104.49,731.59 Q1101.99,733.62 1104.49,735.65 Q1106.99,737.67 1104.49,739.7 Q1101.99,741.73 1104.49,743.76 Q1106.99,745.79 1104.49,747.82 Q1101.99,749.85 1104.49,751.88 Q1106.99,753.91 1104.49,755.94 Q1101.99,757.97 1104.49,760" fill="none" stroke="#262626" stroke-width="1.15"/>
<path d="M1109.18,670.7 Q1111.68,672.73 1109.18,674.76 Q1106.68,676.79 1109.18,678.82 Q1111.68,680.85 1109.18,682.88 Q1106.68,684.91 1109.18,686.94 Q1111.68,688.97 1109.18,691 Q1106.68,693.03 1109.18,695.05 Q1111.68,697.08 1109.18,699.11 Q1106.68,701.14 1109.18,703.17 Q1111.68,705.2 1109.18,707.23 Q1106.68,709.26 1109.18,711.29 Q1111.68,713.32 1109.18,715.35 Q1106.68,717.38 1109.18,719.41 Q1111.68,721.44 1109.18,723.47 Q1106.68,725.5 1109.18,727.53 Q1111.68,729.56 1109.18,731.59 Q1106.68,733.62 1109.18,735.65 Q1111.68,737.67 1109.18,739.7 Q1106.68,741.73 1109.18,743.76 Q1111.68,745.79 1109.18,747.82 Q1106.68,749.85 1109.18,751.88 Q1111.68,753.91 1109.18,755.94 Q1106.68,757.97 1109.18,760" fill="none" stroke="#262626" stroke-width="1.15"/>
<path d="M1113.87,670.7 Q1116.37,672.73 1113.87,674.76 Q1111.37,676.79 1113.87,678.82 Q1116.37,680.85 1113.87,682.88 Q1111.37,684.91 1113.87,686.94 Q1116.37,688.97 1113.87,691 Q1111.37,693.03 1113.87,695.05 Q1116.37,697.08 1113.87,699.11 Q1111.37,701.14 1113.87,703.17 Q1116.37,705.2 1113.87,707.23 Q1111.37,709.26 1113.87,711.29 Q1116.37,713.32 1113.87,715.35 Q1111.37,717.38 1113.87,719.41 Q1116.37,721.44 1113.87,723.47 Q1111.37,725.5 1113.87,727.53 Q1116.37,729.56 1113.87,731.59 Q1111.37,733.62 1113.87,735.65 Q1116.37,737.67 1113.87,739.7 Q1111.37,741.73 1113.87,743.76 Q1116.37,745.79 1113.87,747.82 Q1111.37,749.85 1113.87,751.88 Q1116.37,753.91 1113.87,755.94 Q1111.37,757.97 1113.87,760" fill="none" stroke="#262626" stroke-width="1.15"/>
<path d="M1118.56,670.7 Q1121.06,672.73 1118.56,674.76 Q1116.06,676.79 1118.56,678.82 Q1121.06,680.85 1118.56,682.88 Q1116.06,684.91 1118.56,686.94 Q1121.06,688.97 1118.56,691 Q1116.06,693.03 1118.56,695.05 Q1121.06,697.08 1118.56,699.11 Q1116.06,701.14 1118.56,703.17 Q1121.06,705.2 1118.56,707.23 Q1116.06,709.26 1118.56,711.29 Q1121.06,713.32 1118.56,715.35 Q1116.06,717.38 1118.56,719.41 Q1121.06,721.44 1118.56,723.47 Q1116.06,725.5 1118.56,727.53 Q1121.06,729.56 1118.56,731.59 Q1116.06,733.62 1118.56,735.65 Q1121.06,737.67 1118.56,739.7 Q1116.06,741.73 1118.56,743.76 Q1121.06,745.79 1118.56,747.82 Q1116.06,749.85 1118.56,751.88 Q1121.06,753.91 1118.56,755.94 Q1116.06,757.97 1118.56,760" fill="none" stroke="#262626" stroke-width="1.15"/>
<path d="M1123.25,670.7 Q1125.75,672.73 1123.25,674.76 Q1120.75,676.79 1123.25,678.82 Q1125.75,680.85 1123.25,682.88 Q1120.75,684.91 1123.25,686.94 Q1125.75,688.97 1123.25,691 Q1120.75,693.03 1123.25,695.05 Q1125.75,697.08 1123.25,699.11 Q1120.75,701.14 1123.25,703.17 Q1125.75,705.2 1123.25,707.23 Q1120.75,709.26 1123.25,711.29 Q1125.75,713.32 1123.25,715.35 Q1120.75,717.38 1123.25,719.41 Q1125.75,721.44 1123.25,723.47 Q1120.75,725.5 1123.25,727.53 Q1125.75,729.56 1123.25,731.59 Q1120.75,733.62 1123.25,735.65 Q1125.75,737.67 1123.25,739.7 Q1120.75,741.73 1123.25,743.76 Q1125.75,745.79 1123.25,747.82 Q1120.75,749.85 1123.25,751.88 Q1125.75,753.91 1123.25,755.94 Q1120.75,757.97 1123.25,760" fill="none" stroke="#262626" stroke-width="1.15"/>
<path d="M1127.95,670.7 Q1130.45,672.73 1127.95,674.76 Q1125.45,676.79 1127.95,678.82 Q1130.45,680.85 1127.95,682.88 Q1125.45,684.91 1127.95,686.94 Q1130.45,688.97 1127.95,691 Q1125.45,693.03 1127.95,695.05 Q1130.45,697.08 1127.95,699.11 Q1125.45,701.14 1127.95,703.17 Q1130.45,705.2 1127.95,707.23 Q1125.45,709.26 1127.95,711.29 Q1130.45,713.32 1127.95,715.35 Q1125.45,717.38 1127.95,719.41 Q1130.45,721.44 1127.95,723.47 Q1125.45,725.5 1127.95,727.53 Q1130.45,729.56 1127.95,731.59 Q1125.45,733.62 1127.95,735.65 Q1130.45,737.67 1127.95,739.7 Q1125.45,741.73 1127.95,743.76 Q1130.45,745.79 1127.95,747.82 Q1125.45,749.85 1127.95,751.88 Q1130.45,753.91 1127.95,755.94 Q1125.45,757.97 1127.95,760" fill="none" stroke="#262626" stroke-width="1.15"/>
<path d="M1132.64,670.7 Q1135.14,672.73 1132.64,674.76 Q1130.14,676.79 1132.64,678.82 Q1135.14,680.85 1132.64,682.88 Q1130.14,684.91 1132.64,686.94 Q1135.14,688.97 1132.64,691 Q1130.14,693.03 1132.64,695.05 Q1135.14,697.08 1132.64,699.11 Q1130.14,701.14 1132.64,703.17 Q1135.14,705.2 1132.64,707.23 Q1130.14,709.26 1132.64,711.29 Q1135.14,713.32 1132.64,715.35 Q1130.14,717.38 1132.64,719.41 Q1135.14,721.44 1132.64,723.47 Q1130.14,725.5 1132.64,727.53 Q1135.14,729.56 1132.64,731.59 Q1130.14,733.62 1132.64,735.65 Q1135.14,737.67 1132.64,739.7 Q1130.14,741.73 1132.64,743.76 Q1135.14,745.79 1132.64,747.82 Q1130.14,749.85 1132.64,751.88 Q1135.14,753.91 1132.64,755.94 Q1130.14,757.97 1132.64,760" fill="none" stroke="#262626" stroke-width="1.15"/>
<path d="M1137.33,670.7 Q1139.83,672.73 1137.33,674.76 Q1134.83,676.79 1137.33,678.82 Q1139.83,680.85 1137.33,682.88 Q1134.83,684.91 1137.33,686.94 Q1139.83,688.97 1137.33,691 Q1134.83,693.03 1137.33,695.05 Q1139.83,697.08 1137.33,699.11 Q1134.83,701.14 1137.33,703.17 Q1139.83,705.2 1137.33,707.23 Q1134.83,709.26 1137.33,711.29 Q1139.83,713.32 1137.33,715.35 Q1134.83,717.38 1137.33,719.41 Q1139.83,721.44 1137.33,723.47 Q1134.83,725.5 1137.33,727.53 Q1139.83,729.56 1137.33,731.59 Q1134.83,733.62 1137.33,735.65 Q1139.83,737.67 1137.33,739.7 Q1134.83,741.73 1137.33,743.76 Q1139.83,745.79 1137.33,747.82 Q1134.83,749.85 1137.33,751.88 Q1139.83,753.91 1137.33,755.94 Q1134.83,757.97 1137.33,760" fill="none" stroke="#262626" stroke-width="1.15"/>
<path d="M1142.02,670.7 Q1144.52,672.73 1142.02,674.76 Q1139.52,676.79 1142.02,678.82 Q1144.52,680.85 1142.02,682.88 Q1139.52,684.91 1142.02,686.94 Q1144.52,688.97 1142.02,691 Q1139.52,693.03 1142.02,695.05 Q1144.52,697.08 1142.02,699.11 Q1139.52,701.14 1142.02,703.17 Q1144.52,705.2 1142.02,707.23 Q1139.52,709.26 1142.02,711.29 Q1144.52,713.32 1142.02,715.35 Q1139.52,717.38 1142.02,719.41 Q1144.52,721.44 1142.02,723.47 Q1139.52,725.5 1142.02,727.53 Q1144.52,729.56 1142.02,731.59 Q1139.52,733.62 1142.02,735.65 Q1144.52,737.67 1142.02,739.7 Q1139.52,741.73 1142.02,743.76 Q1144.52,745.79 1142.02,747.82 Q1139.52,749.85 1142.02,751.88 Q1144.52,753.91 1142.02,755.94 Q1139.52,757.97 1142.02,760" fill="none" stroke="#262626" stroke-width="1.15"/>
<path d="M1146.71,670.7 Q1149.21,672.73 1146.71,674.76 Q1144.21,676.79 1146.71,678.82 Q1149.21,680.85 1146.71,682.88 Q1144.21,684.91 1146.71,686.94 Q1149.21,688.97 1146.71,691 Q1144.21,693.03 1146.71,695.05 Q1149.21,697.08 1146.71,699.11 Q1144.21,701.14 1146.71,703.17 Q1149.21,705.2 1146.71,707.23 Q1144.21,709.26 1146.71,711.29 Q1149.21,713.32 1146.71,715.35 Q1144.21,717.38 1146.71,719.41 Q1149.21,721.44 1146.71,723.47 Q1144.21,725.5 1146.71,727.53 Q1149.21,729.56 1146.71,731.59 Q1144.21,733.62 1146.71,735.65 Q1149.21,737.67 1146.71,739.7 Q1144.21,741.73 1146.71,743.76 Q1149.21,745.79 1146.71,747.82 Q1144.21,749.85 1146.71,751.88 Q1149.21,753.91 1146.71,755.94 Q1144.21,757.97 1146.71,760" fill="none" stroke="#262626" stroke-width="1.15"/>
<path d="M1151.4,670.7 Q1153.9,672.73 1151.4,674.76 Q1148.9,676.79 1151.4,678.82 Q1153.9,680.85 1151.4,682.88 Q1148.9,684.91 1151.4,686.94 Q1153.9,688.97 1151.4,691 Q1148.9,693.03 1151.4,695.05 Q1153.9,697.08 1151.4,699.11 Q1148.9,701.14 1151.4,703.17 Q1153.9,705.2 1151.4,707.23 Q1148.9,709.26 1151.4,711.29 Q1153.9,713.32 1151.4,715.35 Q1148.9,717.38 1151.4,719.41 Q1153.9,721.44 1151.4,723.47 Q1148.9,725.5 1151.4,727.53 Q1153.9,729.56 1151.4,731.59 Q1148.9,733.62 1151.4,735.65 Q1153.9,737.67 1151.4,739.7 Q1148.9,741.73 1151.4,743.76 Q1153.9,745.79 1151.4,747.82 Q1148.9,749.85 1151.4,751.88 Q1153.9,753.91 1151.4,755.94 Q1148.9,757.97 1151.4,760" fill="none" stroke="#262626" stroke-width="1.15"/>
<rect x="432" y="379.5" width="26" height="6.3" fill="#dcdcdc" stroke="#8a8a8a" stroke-width="1.2"/>
<rect x="432" y="481.4" width="26" height="6.4" fill="#dcdcdc" stroke="#8a8a8a" stroke-width="1.2"/>
<rect x="605" y="479.7" width="31" height="7.7" fill="#dcdcdc" stroke="#8a8a8a" stroke-width="1.2"/>
<rect x="707" y="479.7" width="53" height="7.7" fill="#dcdcdc" stroke="#8a8a8a" stroke-width="1.2"/>
<rect x="714" y="408.3" width="46" height="4.4" fill="#dcdcdc" stroke="#8a8a8a" stroke-width="1.2"/>
<rect x="886" y="419.6" width="43" height="14.4" fill="#dcdcdc" stroke="#8a8a8a" stroke-width="1.2"/>
<rect x="886" y="522" width="23" height="5.2" fill="#dcdcdc" stroke="#8a8a8a" stroke-width="1.2"/>
<rect x="999" y="419.8" width="35" height="7.4" fill="#dcdcdc" stroke="#8a8a8a" stroke-width="1.2"/>
<rect x="433.8" y="385.8" width="22.2" height="95.6" fill="none" stroke="#8a8a8a" stroke-width="1.2"/>
<path d="M336.5,366 L434.5,366 L434.5,487.8 L433.6,487.8 L433.6,492 L429.3,492 L429.3,503 L358.3,503 L358.3,491.7 L336.5,491.7 Z" fill="#dcdcdc" stroke="#8a8a8a" stroke-width="1.3"/>
<path d="M340,369.5 L431,369.5 L431,485 L426,485 L426,488 L362,488 L362,488 L340,488 Z" fill="#d3d3d3" stroke="#aaa" stroke-width="1"/>
<rect x="359" y="489" width="69.6" height="13.3" fill="#d3d3d3" stroke="none" stroke-width="0"/>
<rect x="455" y="377.3" width="153.3" height="159.4" fill="#dcdcdc" stroke="#8a8a8a" stroke-width="1.3"/>
<rect x="458.2" y="380.5" width="146.9" height="153" fill="#d3d3d3" stroke="#a6a6a6" stroke-width="1"/>
<rect x="633.1" y="471.6" width="78.1" height="63.6" fill="#dcdcdc" stroke="#8a8a8a" stroke-width="1.3"/>
<rect x="636.3" y="474.8" width="71.7" height="57.2" fill="#d3d3d3" stroke="#a6a6a6" stroke-width="1"/>
<rect x="757.3" y="331.7" width="132" height="204.3" fill="#dcdcdc" stroke="#8a8a8a" stroke-width="1.3"/>
<rect x="760.5" y="334.9" width="125.6" height="197.9" fill="#d3d3d3" stroke="#a6a6a6" stroke-width="1"/>
<rect x="926.4" y="337.6" width="75" height="159.4" fill="#dcdcdc" stroke="#8a8a8a" stroke-width="1.3"/>
<rect x="929.2" y="340.4" width="69.4" height="153.8" fill="#d3d3d3" stroke="#a6a6a6" stroke-width="1"/>
<rect x="906.6" y="514" width="19.8" height="41.6" fill="#d3d3d3" stroke="#8f8f8f" stroke-width="1.15"/>
<rect x="926.4" y="499.4" width="40" height="12" fill="#d3d3d3" stroke="#8f8f8f" stroke-width="1.15"/>
<rect x="776.4" y="279" width="95.9" height="24.75" fill="#d3d3d3" stroke="#808080" stroke-width="1.2"/>
<circle cx="717.4" cy="522.7" r="5.7" fill="#e6e6e6" stroke="#8a8a8a" stroke-width="1.4"/>
<circle cx="717.4" cy="522.7" r="3.3" fill="#d8d8d8" stroke="#999" stroke-width="1.4"/>
<rect x="332.7" y="305" width="16.7" height="33" fill="#d3d3d3" stroke="#aaa" stroke-width="1.15"/>
<rect x="353.3" y="305" width="16.7" height="33" fill="#d3d3d3" stroke="#aaa" stroke-width="1.15"/>
<rect x="374" y="305" width="16.7" height="33" fill="#d3d3d3" stroke="#aaa" stroke-width="1.15"/>
<rect x="322.2" y="503.7" width="8" height="40" fill="url(#gv)" stroke="#7c7c7c" stroke-width="0.7"/>
<rect x="330.2" y="503.7" width="8" height="40" fill="url(#gv)" stroke="#7c7c7c" stroke-width="0.7"/>
<rect x="338.2" y="503.7" width="8" height="40" fill="url(#gv)" stroke="#7c7c7c" stroke-width="0.7"/>
<rect x="346.2" y="503.7" width="8" height="40" fill="url(#gv)" stroke="#7c7c7c" stroke-width="0.7"/>
<rect x="354.2" y="503.7" width="8" height="40" fill="url(#gv)" stroke="#7c7c7c" stroke-width="0.7"/>
<rect x="362.2" y="503.7" width="8" height="40" fill="url(#gv)" stroke="#7c7c7c" stroke-width="0.7"/>
<rect x="370.2" y="503.7" width="8" height="40" fill="url(#gv)" stroke="#7c7c7c" stroke-width="0.7"/>
<rect x="378.2" y="503.7" width="8" height="40" fill="url(#gv)" stroke="#7c7c7c" stroke-width="0.7"/>
<rect x="386.2" y="503.7" width="8" height="40" fill="url(#gv)" stroke="#7c7c7c" stroke-width="0.7"/>
<rect x="400.5" y="520.5" width="23.3" height="24" fill="#d3d3d3" stroke="#aaa" stroke-width="1.15"/>
<rect x="313" y="546" width="24.5" height="15.8" fill="#d3d3d3" stroke="#aaa" stroke-width="1.15"/>
<rect x="592" y="172" width="17.6" height="20" fill="#d3d3d3" stroke="#969696" stroke-width="1.15"/>
<rect x="584.4" y="196" width="25.2" height="25.4" fill="#d3d3d3" stroke="#969696" stroke-width="1.15"/>
<circle cx="547.8" cy="248.3" r="17.3" fill="#dcdcdc" stroke="#8f8f8f" stroke-width="1.2"/>
<circle cx="547.8" cy="248.3" r="14.6" fill="#d3d3d3" stroke="#9a9a9a" stroke-width="1"/>
<g transform="rotate(-43 547.8 248.3)"><rect x="531" y="246.2" width="33.6" height="4.2" fill="#e0e0e0" stroke="#8f8f8f" stroke-width="1"/></g>
<g transform="rotate(25 518.4 250)"><rect x="513.4" y="239.5" width="10" height="21" fill="#d3d3d3" stroke="#828282" stroke-width="1.15"/></g>
<path d="M492.7,253.9 L506,253.9 L506,259 L509.8,259 L509.8,278.7 L492.7,278.7 Z" fill="#d3d3d3" stroke="#828282" stroke-width="1.15"/>
<rect x="458.2" y="275.7" width="33.9" height="36.8" fill="#d3d3d3" stroke="#828282" stroke-width="1.15"/>
<rect x="507.5" y="301.8" width="10.3" height="20.5" fill="#d3d3d3" stroke="#828282" stroke-width="1.15"/>
<path d="M452.2,314.7 L484,314.7 L484,316 L502,316 L502,334.7 L484,334.7 L484,333.5 L452.2,333.5 Z" fill="#d3d3d3" stroke="#828282" stroke-width="1.15"/>
<path d="M452.2,336.1 L462,336.1 L462,351.5 L480,351.5 Q478,343 485,341.5 Q492,342 491.5,350 L491.7,352 L491.7,370.2 L452.2,370.2 L452.2,362 L454,362 L454,357 L452.2,357 Z" fill="#d3d3d3" stroke="#828282" stroke-width="1.15"/>
<path d="M507.1,325.8 L535.9,325.8 L535.9,370.2 L492.3,370.2 L492.3,353 L495.5,353 L495.5,336.7 L507.1,336.7 Z" fill="#d3d3d3" stroke="#828282" stroke-width="1.15"/>
<rect x="575.4" y="261.7" width="31.4" height="18.9" fill="#d3d3d3" stroke="#828282" stroke-width="1.15"/>
<circle cx="583.6" cy="271.3" r="6.2" fill="#d3d3d3" stroke="#787878" stroke-width="1.4"/>
<circle cx="597.6" cy="271.3" r="6.2" fill="#d3d3d3" stroke="#787878" stroke-width="1.4"/>
<line x1="581" y1="271.3" x2="600" y2="271.3" stroke="#8f8f8f" stroke-width="1"/>
<circle cx="555.8" cy="291.5" r="5.9" fill="#d3d3d3" stroke="#787878" stroke-width="1.4"/>
<circle cx="569.8" cy="291.5" r="5.9" fill="#d3d3d3" stroke="#787878" stroke-width="1.4"/>
<circle cx="583.4" cy="291.5" r="5.9" fill="#d3d3d3" stroke="#787878" stroke-width="1.4"/>
<circle cx="597" cy="291.5" r="5.9" fill="#d3d3d3" stroke="#787878" stroke-width="1.4"/>
<line x1="555.8" y1="291.5" x2="597" y2="291.5" stroke="#8f8f8f" stroke-width="1"/>
<circle cx="555.8" cy="304.9" r="5.9" fill="#d3d3d3" stroke="#787878" stroke-width="1.4"/>
<circle cx="569.8" cy="304.9" r="5.9" fill="#d3d3d3" stroke="#787878" stroke-width="1.4"/>
<circle cx="583.4" cy="304.9" r="5.9" fill="#d3d3d3" stroke="#787878" stroke-width="1.4"/>
<circle cx="597" cy="304.9" r="5.9" fill="#d3d3d3" stroke="#787878" stroke-width="1.4"/>
<line x1="555.8" y1="304.9" x2="597" y2="304.9" stroke="#8f8f8f" stroke-width="1"/>
<circle cx="555.8" cy="318.2" r="5.9" fill="#d3d3d3" stroke="#787878" stroke-width="1.4"/>
<circle cx="569.8" cy="318.2" r="5.9" fill="#d3d3d3" stroke="#787878" stroke-width="1.4"/>
<circle cx="583.4" cy="318.2" r="5.9" fill="#d3d3d3" stroke="#787878" stroke-width="1.4"/>
<circle cx="597" cy="318.2" r="5.9" fill="#d3d3d3" stroke="#787878" stroke-width="1.4"/>
<line x1="555.8" y1="318.2" x2="597" y2="318.2" stroke="#8f8f8f" stroke-width="1"/>
<circle cx="555.8" cy="332.2" r="5.9" fill="#d3d3d3" stroke="#787878" stroke-width="1.4"/>
<circle cx="569.8" cy="332.2" r="5.9" fill="#d3d3d3" stroke="#787878" stroke-width="1.4"/>
<circle cx="583.4" cy="332.2" r="5.9" fill="#d3d3d3" stroke="#787878" stroke-width="1.4"/>
<circle cx="597" cy="332.2" r="5.9" fill="#d3d3d3" stroke="#787878" stroke-width="1.4"/>
<line x1="555.8" y1="332.2" x2="597" y2="332.2" stroke="#8f8f8f" stroke-width="1"/>
<circle cx="555.8" cy="345.6" r="5.9" fill="#d3d3d3" stroke="#787878" stroke-width="1.4"/>
<circle cx="569.8" cy="345.6" r="5.9" fill="#d3d3d3" stroke="#787878" stroke-width="1.4"/>
<circle cx="583.4" cy="345.6" r="5.9" fill="#d3d3d3" stroke="#787878" stroke-width="1.4"/>
<circle cx="597" cy="345.6" r="5.9" fill="#d3d3d3" stroke="#787878" stroke-width="1.4"/>
<line x1="555.8" y1="345.6" x2="597" y2="345.6" stroke="#8f8f8f" stroke-width="1"/>
<circle cx="555.8" cy="359.3" r="5.9" fill="#d3d3d3" stroke="#787878" stroke-width="1.4"/>
<circle cx="569.8" cy="359.3" r="5.9" fill="#d3d3d3" stroke="#787878" stroke-width="1.4"/>
<circle cx="583.4" cy="359.3" r="5.9" fill="#d3d3d3" stroke="#787878" stroke-width="1.4"/>
<circle cx="597" cy="359.3" r="5.9" fill="#d3d3d3" stroke="#787878" stroke-width="1.4"/>
<line x1="555.8" y1="359.3" x2="597" y2="359.3" stroke="#8f8f8f" stroke-width="1"/>
<rect x="628.7" y="244.4" width="88.6" height="222.6" fill="#f0f0f0" stroke="#a8a8a8" stroke-width="1" rx="5"/>
<circle cx="639.7" cy="253.9" r="5.9" fill="#d3d3d3" stroke="#787878" stroke-width="1.4"/>
<circle cx="653.2" cy="253.9" r="5.9" fill="#d3d3d3" stroke="#787878" stroke-width="1.4"/>
<circle cx="666.7" cy="253.9" r="5.9" fill="#d3d3d3" stroke="#787878" stroke-width="1.4"/>
<circle cx="679.5" cy="253.9" r="5.9" fill="#d3d3d3" stroke="#787878" stroke-width="1.4"/>
<circle cx="692.9" cy="253.9" r="5.9" fill="#d3d3d3" stroke="#787878" stroke-width="1.4"/>
<circle cx="706.3" cy="253.9" r="5.9" fill="#d3d3d3" stroke="#787878" stroke-width="1.4"/>
<line x1="639.3" y1="253.9" x2="666.7" y2="253.9" stroke="#8f8f8f" stroke-width="1"/>
<line x1="680" y1="253.9" x2="706.7" y2="253.9" stroke="#8f8f8f" stroke-width="1"/>
<circle cx="639.7" cy="266.3" r="5.9" fill="#d3d3d3" stroke="#787878" stroke-width="1.4"/>
<circle cx="653.2" cy="266.3" r="5.9" fill="#d3d3d3" stroke="#787878" stroke-width="1.4"/>
<circle cx="666.7" cy="266.3" r="5.9" fill="#d3d3d3" stroke="#787878" stroke-width="1.4"/>
<circle cx="679.5" cy="266.3" r="5.9" fill="#d3d3d3" stroke="#787878" stroke-width="1.4"/>
<circle cx="692.9" cy="266.3" r="5.9" fill="#d3d3d3" stroke="#787878" stroke-width="1.4"/>
<circle cx="706.3" cy="266.3" r="5.9" fill="#d3d3d3" stroke="#787878" stroke-width="1.4"/>
<line x1="639.3" y1="266.3" x2="666.7" y2="266.3" stroke="#8f8f8f" stroke-width="1"/>
<line x1="680" y1="266.3" x2="706.7" y2="266.3" stroke="#8f8f8f" stroke-width="1"/>
<circle cx="639.7" cy="279.8" r="5.9" fill="#d3d3d3" stroke="#787878" stroke-width="1.4"/>
<circle cx="653.2" cy="279.8" r="5.9" fill="#d3d3d3" stroke="#787878" stroke-width="1.4"/>
<circle cx="666.7" cy="279.8" r="5.9" fill="#d3d3d3" stroke="#787878" stroke-width="1.4"/>
<circle cx="679.5" cy="279.8" r="5.9" fill="#d3d3d3" stroke="#787878" stroke-width="1.4"/>
<circle cx="692.9" cy="279.8" r="5.9" fill="#d3d3d3" stroke="#787878" stroke-width="1.4"/>
<circle cx="706.3" cy="279.8" r="5.9" fill="#d3d3d3" stroke="#787878" stroke-width="1.4"/>
<line x1="639.3" y1="279.8" x2="666.7" y2="279.8" stroke="#8f8f8f" stroke-width="1"/>
<line x1="680" y1="279.8" x2="706.7" y2="279.8" stroke="#8f8f8f" stroke-width="1"/>
<circle cx="639.7" cy="292.2" r="5.9" fill="#d3d3d3" stroke="#787878" stroke-width="1.4"/>
<circle cx="653.2" cy="292.2" r="5.9" fill="#d3d3d3" stroke="#787878" stroke-width="1.4"/>
<circle cx="666.7" cy="292.2" r="5.9" fill="#d3d3d3" stroke="#787878" stroke-width="1.4"/>
<circle cx="679.5" cy="292.2" r="5.9" fill="#d3d3d3" stroke="#787878" stroke-width="1.4"/>
<circle cx="692.9" cy="292.2" r="5.9" fill="#d3d3d3" stroke="#787878" stroke-width="1.4"/>
<circle cx="706.3" cy="292.2" r="5.9" fill="#d3d3d3" stroke="#787878" stroke-width="1.4"/>
<line x1="639.3" y1="292.2" x2="666.7" y2="292.2" stroke="#8f8f8f" stroke-width="1"/>
<line x1="680" y1="292.2" x2="706.7" y2="292.2" stroke="#8f8f8f" stroke-width="1"/>
<circle cx="639.7" cy="306.6" r="5.9" fill="#d3d3d3" stroke="#787878" stroke-width="1.4"/>
<circle cx="653.2" cy="306.6" r="5.9" fill="#d3d3d3" stroke="#787878" stroke-width="1.4"/>
<circle cx="666.7" cy="306.6" r="5.9" fill="#d3d3d3" stroke="#787878" stroke-width="1.4"/>
<circle cx="679.5" cy="306.6" r="5.9" fill="#d3d3d3" stroke="#787878" stroke-width="1.4"/>
<circle cx="692.9" cy="306.6" r="5.9" fill="#d3d3d3" stroke="#787878" stroke-width="1.4"/>
<circle cx="706.3" cy="306.6" r="5.9" fill="#d3d3d3" stroke="#787878" stroke-width="1.4"/>
<line x1="639.3" y1="306.6" x2="666.7" y2="306.6" stroke="#8f8f8f" stroke-width="1"/>
<line x1="680" y1="306.6" x2="706.7" y2="306.6" stroke="#8f8f8f" stroke-width="1"/>
<circle cx="639.7" cy="319" r="5.9" fill="#d3d3d3" stroke="#787878" stroke-width="1.4"/>
<circle cx="653.2" cy="319" r="5.9" fill="#d3d3d3" stroke="#787878" stroke-width="1.4"/>
<circle cx="666.7" cy="319" r="5.9" fill="#d3d3d3" stroke="#787878" stroke-width="1.4"/>
<circle cx="679.5" cy="319" r="5.9" fill="#d3d3d3" stroke="#787878" stroke-width="1.4"/>
<circle cx="692.9" cy="319" r="5.9" fill="#d3d3d3" stroke="#787878" stroke-width="1.4"/>
<circle cx="706.3" cy="319" r="5.9" fill="#d3d3d3" stroke="#787878" stroke-width="1.4"/>
<line x1="639.3" y1="319" x2="666.7" y2="319" stroke="#8f8f8f" stroke-width="1"/>
<line x1="680" y1="319" x2="706.7" y2="319" stroke="#8f8f8f" stroke-width="1"/>
<circle cx="639.7" cy="334.4" r="5.9" fill="#d3d3d3" stroke="#787878" stroke-width="1.4"/>
<circle cx="653.2" cy="334.4" r="5.9" fill="#d3d3d3" stroke="#787878" stroke-width="1.4"/>
<circle cx="666.7" cy="334.4" r="5.9" fill="#d3d3d3" stroke="#787878" stroke-width="1.4"/>
<circle cx="679.5" cy="334.4" r="5.9" fill="#d3d3d3" stroke="#787878" stroke-width="1.4"/>
<circle cx="692.9" cy="334.4" r="5.9" fill="#d3d3d3" stroke="#787878" stroke-width="1.4"/>
<circle cx="706.3" cy="334.4" r="5.9" fill="#d3d3d3" stroke="#787878" stroke-width="1.4"/>
<line x1="639.3" y1="334.4" x2="666.7" y2="334.4" stroke="#8f8f8f" stroke-width="1"/>
<line x1="680" y1="334.4" x2="706.7" y2="334.4" stroke="#8f8f8f" stroke-width="1"/>
<circle cx="639.7" cy="346.8" r="5.9" fill="#d3d3d3" stroke="#787878" stroke-width="1.4"/>
<circle cx="653.2" cy="346.8" r="5.9" fill="#d3d3d3" stroke="#787878" stroke-width="1.4"/>
<circle cx="666.7" cy="346.8" r="5.9" fill="#d3d3d3" stroke="#787878" stroke-width="1.4"/>
<circle cx="679.5" cy="346.8" r="5.9" fill="#d3d3d3" stroke="#787878" stroke-width="1.4"/>
<circle cx="692.9" cy="346.8" r="5.9" fill="#d3d3d3" stroke="#787878" stroke-width="1.4"/>
<circle cx="706.3" cy="346.8" r="5.9" fill="#d3d3d3" stroke="#787878" stroke-width="1.4"/>
<line x1="639.3" y1="346.8" x2="666.7" y2="346.8" stroke="#8f8f8f" stroke-width="1"/>
<line x1="680" y1="346.8" x2="706.7" y2="346.8" stroke="#8f8f8f" stroke-width="1"/>
<circle cx="639.7" cy="362.9" r="5.9" fill="#d3d3d3" stroke="#787878" stroke-width="1.4"/>
<circle cx="653.2" cy="362.9" r="5.9" fill="#d3d3d3" stroke="#787878" stroke-width="1.4"/>
<circle cx="666.7" cy="362.9" r="5.9" fill="#d3d3d3" stroke="#787878" stroke-width="1.4"/>
<circle cx="679.5" cy="362.9" r="5.9" fill="#d3d3d3" stroke="#787878" stroke-width="1.4"/>
<circle cx="692.9" cy="362.9" r="5.9" fill="#d3d3d3" stroke="#787878" stroke-width="1.4"/>
<circle cx="706.3" cy="362.9" r="5.9" fill="#d3d3d3" stroke="#787878" stroke-width="1.4"/>
<line x1="639.3" y1="362.9" x2="666.7" y2="362.9" stroke="#8f8f8f" stroke-width="1"/>
<line x1="680" y1="362.9" x2="706.7" y2="362.9" stroke="#8f8f8f" stroke-width="1"/>
<circle cx="639.7" cy="375.3" r="5.9" fill="#d3d3d3" stroke="#787878" stroke-width="1.4"/>
<circle cx="653.2" cy="375.3" r="5.9" fill="#d3d3d3" stroke="#787878" stroke-width="1.4"/>
<circle cx="666.7" cy="375.3" r="5.9" fill="#d3d3d3" stroke="#787878" stroke-width="1.4"/>
<circle cx="679.5" cy="375.3" r="5.9" fill="#d3d3d3" stroke="#787878" stroke-width="1.4"/>
<circle cx="692.9" cy="375.3" r="5.9" fill="#d3d3d3" stroke="#787878" stroke-width="1.4"/>
<circle cx="706.3" cy="375.3" r="5.9" fill="#d3d3d3" stroke="#787878" stroke-width="1.4"/>
<line x1="639.3" y1="375.3" x2="666.7" y2="375.3" stroke="#8f8f8f" stroke-width="1"/>
<line x1="680" y1="375.3" x2="706.7" y2="375.3" stroke="#8f8f8f" stroke-width="1"/>
<circle cx="639.7" cy="390.2" r="5.9" fill="#d3d3d3" stroke="#787878" stroke-width="1.4"/>
<circle cx="653.2" cy="390.2" r="5.9" fill="#d3d3d3" stroke="#787878" stroke-width="1.4"/>
<circle cx="666.7" cy="390.2" r="5.9" fill="#d3d3d3" stroke="#787878" stroke-width="1.4"/>
<circle cx="679.5" cy="390.2" r="5.9" fill="#d3d3d3" stroke="#787878" stroke-width="1.4"/>
<circle cx="692.9" cy="390.2" r="5.9" fill="#d3d3d3" stroke="#787878" stroke-width="1.4"/>
<circle cx="706.3" cy="390.2" r="5.9" fill="#d3d3d3" stroke="#787878" stroke-width="1.4"/>
<line x1="639.3" y1="390.2" x2="666.7" y2="390.2" stroke="#8f8f8f" stroke-width="1"/>
<line x1="680" y1="390.2" x2="706.7" y2="390.2" stroke="#8f8f8f" stroke-width="1"/>
<circle cx="639.7" cy="402.6" r="5.9" fill="#d3d3d3" stroke="#787878" stroke-width="1.4"/>
<circle cx="653.2" cy="402.6" r="5.9" fill="#d3d3d3" stroke="#787878" stroke-width="1.4"/>
<circle cx="666.7" cy="402.6" r="5.9" fill="#d3d3d3" stroke="#787878" stroke-width="1.4"/>
<circle cx="679.5" cy="402.6" r="5.9" fill="#d3d3d3" stroke="#787878" stroke-width="1.4"/>
<circle cx="692.9" cy="402.6" r="5.9" fill="#d3d3d3" stroke="#787878" stroke-width="1.4"/>
<circle cx="706.3" cy="402.6" r="5.9" fill="#d3d3d3" stroke="#787878" stroke-width="1.4"/>
<line x1="639.3" y1="402.6" x2="666.7" y2="402.6" stroke="#8f8f8f" stroke-width="1"/>
<line x1="680" y1="402.6" x2="706.7" y2="402.6" stroke="#8f8f8f" stroke-width="1"/>
<circle cx="639.7" cy="418.2" r="5.9" fill="#d3d3d3" stroke="#787878" stroke-width="1.4"/>
<circle cx="653.2" cy="418.2" r="5.9" fill="#d3d3d3" stroke="#787878" stroke-width="1.4"/>
<circle cx="666.7" cy="418.2" r="5.9" fill="#d3d3d3" stroke="#787878" stroke-width="1.4"/>
<circle cx="679.5" cy="418.2" r="5.9" fill="#d3d3d3" stroke="#787878" stroke-width="1.4"/>
<circle cx="692.9" cy="418.2" r="5.9" fill="#d3d3d3" stroke="#787878" stroke-width="1.4"/>
<circle cx="706.3" cy="418.2" r="5.9" fill="#d3d3d3" stroke="#787878" stroke-width="1.4"/>
<line x1="639.3" y1="418.2" x2="666.7" y2="418.2" stroke="#8f8f8f" stroke-width="1"/>
<line x1="680" y1="418.2" x2="706.7" y2="418.2" stroke="#8f8f8f" stroke-width="1"/>
<circle cx="639.7" cy="430.6" r="5.9" fill="#d3d3d3" stroke="#787878" stroke-width="1.4"/>
<circle cx="653.2" cy="430.6" r="5.9" fill="#d3d3d3" stroke="#787878" stroke-width="1.4"/>
<circle cx="666.7" cy="430.6" r="5.9" fill="#d3d3d3" stroke="#787878" stroke-width="1.4"/>
<circle cx="679.5" cy="430.6" r="5.9" fill="#d3d3d3" stroke="#787878" stroke-width="1.4"/>
<circle cx="692.9" cy="430.6" r="5.9" fill="#d3d3d3" stroke="#787878" stroke-width="1.4"/>
<circle cx="706.3" cy="430.6" r="5.9" fill="#d3d3d3" stroke="#787878" stroke-width="1.4"/>
<line x1="639.3" y1="430.6" x2="666.7" y2="430.6" stroke="#8f8f8f" stroke-width="1"/>
<line x1="680" y1="430.6" x2="706.7" y2="430.6" stroke="#8f8f8f" stroke-width="1"/>
<circle cx="639.7" cy="445.2" r="5.9" fill="#d3d3d3" stroke="#787878" stroke-width="1.4"/>
<circle cx="653.2" cy="445.2" r="5.9" fill="#d3d3d3" stroke="#787878" stroke-width="1.4"/>
<circle cx="666.7" cy="445.2" r="5.9" fill="#d3d3d3" stroke="#787878" stroke-width="1.4"/>
<circle cx="679.5" cy="445.2" r="5.9" fill="#d3d3d3" stroke="#787878" stroke-width="1.4"/>
<circle cx="692.9" cy="445.2" r="5.9" fill="#d3d3d3" stroke="#787878" stroke-width="1.4"/>
<circle cx="706.3" cy="445.2" r="5.9" fill="#d3d3d3" stroke="#787878" stroke-width="1.4"/>
<line x1="639.3" y1="445.2" x2="666.7" y2="445.2" stroke="#8f8f8f" stroke-width="1"/>
<line x1="680" y1="445.2" x2="706.7" y2="445.2" stroke="#8f8f8f" stroke-width="1"/>
<circle cx="639.7" cy="457.6" r="5.9" fill="#d3d3d3" stroke="#787878" stroke-width="1.4"/>
<circle cx="653.2" cy="457.6" r="5.9" fill="#d3d3d3" stroke="#787878" stroke-width="1.4"/>
<circle cx="666.7" cy="457.6" r="5.9" fill="#d3d3d3" stroke="#787878" stroke-width="1.4"/>
<circle cx="679.5" cy="457.6" r="5.9" fill="#d3d3d3" stroke="#787878" stroke-width="1.4"/>
<circle cx="692.9" cy="457.6" r="5.9" fill="#d3d3d3" stroke="#787878" stroke-width="1.4"/>
<circle cx="706.3" cy="457.6" r="5.9" fill="#d3d3d3" stroke="#787878" stroke-width="1.4"/>
<line x1="639.3" y1="457.6" x2="666.7" y2="457.6" stroke="#8f8f8f" stroke-width="1"/>
<line x1="680" y1="457.6" x2="706.7" y2="457.6" stroke="#8f8f8f" stroke-width="1"/>
<path d="M1012.2,292.4 Q1012.2,284.4 1020.2,284.4 L1049.9,284.4 Q1057.9,284.4 1057.9,292.4 L1057.9,462.6 Q1057.9,472.6 1048.07,470.75 L1022.03,465.85 Q1012.2,464 1012.2,454 Z" fill="#efefef" stroke="#c6c6c6" stroke-width="1.15"/>
<rect x="927.6" y="279.6" width="20.3" height="45.9" fill="#d3d3d3" stroke="#828282" stroke-width="1.15"/>
<circle cx="933.2" cy="285.2" r="4.4" fill="#d3d3d3" stroke="#787878" stroke-width="1.4"/>
<circle cx="942.3" cy="285.2" r="4.4" fill="#d3d3d3" stroke="#787878" stroke-width="1.4"/>
<circle cx="933.2" cy="296.7" r="4.4" fill="#d3d3d3" stroke="#787878" stroke-width="1.4"/>
<circle cx="942.3" cy="296.7" r="4.4" fill="#d3d3d3" stroke="#787878" stroke-width="1.4"/>
<circle cx="933.2" cy="307.7" r="4.4" fill="#d3d3d3" stroke="#787878" stroke-width="1.4"/>
<circle cx="942.3" cy="307.7" r="4.4" fill="#d3d3d3" stroke="#787878" stroke-width="1.4"/>
<circle cx="933.2" cy="318.7" r="4.4" fill="#d3d3d3" stroke="#787878" stroke-width="1.4"/>
<circle cx="942.3" cy="318.7" r="4.4" fill="#d3d3d3" stroke="#787878" stroke-width="1.4"/>
<path d="M950.3,279.6 L1000.9,279.6 L1000.9,291.8 L1017.5,291.8 L1017.5,290.5 L1054.7,290.5 L1054.7,337 L1040.8,337 L1040.8,364.2 L1035.8,364.2 L1035.8,406.5 L1027,406.5 L1027,337 L1017.5,337.7 L1017.5,324.8 L950.3,324.8 L950.3,306 L947.9,306 L947.9,298 L950.3,298 Z" fill="#d3d3d3" stroke="#828282" stroke-width="1.15"/>
<circle cx="1024.9" cy="297.9" r="4.4" fill="#d3d3d3" stroke="#787878" stroke-width="1.4"/>
<circle cx="1035.9" cy="297.9" r="4.4" fill="#d3d3d3" stroke="#787878" stroke-width="1.4"/>
<circle cx="1046.4" cy="297.9" r="4.4" fill="#d3d3d3" stroke="#787878" stroke-width="1.4"/>
<line x1="1022" y1="297.9" x2="1049.5" y2="297.9" stroke="#8f8f8f" stroke-width="1"/>
<circle cx="1024.9" cy="312" r="4.4" fill="#d3d3d3" stroke="#787878" stroke-width="1.4"/>
<circle cx="1035.9" cy="312" r="4.4" fill="#d3d3d3" stroke="#787878" stroke-width="1.4"/>
<circle cx="1046.4" cy="312" r="4.4" fill="#d3d3d3" stroke="#787878" stroke-width="1.4"/>
<line x1="1022" y1="312" x2="1049.5" y2="312" stroke="#8f8f8f" stroke-width="1"/>
<circle cx="1024.9" cy="326.5" r="4.4" fill="#d3d3d3" stroke="#787878" stroke-width="1.4"/>
<circle cx="1035.9" cy="326.5" r="4.4" fill="#d3d3d3" stroke="#787878" stroke-width="1.4"/>
<circle cx="1046.4" cy="326.5" r="4.4" fill="#d3d3d3" stroke="#787878" stroke-width="1.4"/>
<line x1="1022" y1="326.5" x2="1049.5" y2="326.5" stroke="#8f8f8f" stroke-width="1"/>
<rect x="1044.9" y="342.6" width="6.4" height="29.8" fill="#d3d3d3" stroke="#828282" stroke-width="1.15" rx="3.2"/>
<rect x="1042.7" y="376" width="8.6" height="8.6" fill="#d3d3d3" stroke="#828282" stroke-width="1.15"/>
<rect x="1040.7" y="388.3" width="10.6" height="8.6" fill="#d3d3d3" stroke="#828282" stroke-width="1.15"/>
<rect x="1039.5" y="401.7" width="12.7" height="11.8" fill="#d3d3d3" stroke="#828282" stroke-width="1.15"/>
<path d="M1017.5,363.9 L1024.4,363.9 L1024.4,378.5 L1017.5,378.5 L1017.5,375 L1015,375 L1015,367 L1017.5,367 Z" fill="#d3d3d3" stroke="#828282" stroke-width="1.15"/>
<rect x="1062.2" y="302" width="24.2" height="72.9" fill="#d3d3d3" stroke="#828282" stroke-width="1.15"/>
<polygon points="1090.8,357.8 1127.5,350.4 1131.2,366.3 1094.5,373.6" fill="#d3d3d3" stroke="#828282" stroke-width="1.15"/>
<rect x="1032.2" y="420" width="22.5" height="13.5" fill="#d3d3d3" stroke="#828282" stroke-width="1.15"/>
<circle cx="1039" cy="426.9" r="4.4" fill="#d3d3d3" stroke="#787878" stroke-width="1.4"/>
<circle cx="1048.6" cy="426.9" r="4.4" fill="#d3d3d3" stroke="#787878" stroke-width="1.4"/>
<line x1="1036" y1="426.9" x2="1051.5" y2="426.9" stroke="#8f8f8f" stroke-width="1"/>
<rect x="1032.2" y="436" width="11" height="24.9" fill="#d3d3d3" stroke="#828282" stroke-width="1.15"/>
<path d="M1002,352 L1012.2,352 M1002,357.5 L1012.2,357.5" fill="none" stroke="#bbb" stroke-width="1"/>
<path d="M926.4,514 L994,514 L1002,521 L1002,562 L926.4,562 Z" fill="#ececec" stroke="#bdbdbd" stroke-width="1.15"/>
<circle cx="934.4" cy="520.6" r="5.3" fill="#d3d3d3" stroke="#787878" stroke-width="1.4"/>
<circle cx="934.4" cy="531" r="5.3" fill="#d3d3d3" stroke="#787878" stroke-width="1.4"/>
<circle cx="934.4" cy="541.6" r="5.3" fill="#d3d3d3" stroke="#787878" stroke-width="1.4"/>
<circle cx="934.4" cy="554.2" r="5.3" fill="#d3d3d3" stroke="#787878" stroke-width="1.4"/>
<circle cx="948.4" cy="541.6" r="5.3" fill="#d3d3d3" stroke="#787878" stroke-width="1.4"/>
<circle cx="962" cy="541.6" r="5.3" fill="#d3d3d3" stroke="#787878" stroke-width="1.4"/>
<circle cx="975.6" cy="541.6" r="5.3" fill="#d3d3d3" stroke="#787878" stroke-width="1.4"/>
<circle cx="989" cy="541.6" r="5.3" fill="#d3d3d3" stroke="#787878" stroke-width="1.4"/>
<circle cx="948.4" cy="554.2" r="5.3" fill="#d3d3d3" stroke="#787878" stroke-width="1.4"/>
<circle cx="962" cy="554.2" r="5.3" fill="#d3d3d3" stroke="#787878" stroke-width="1.4"/>
<circle cx="975.6" cy="554.2" r="5.3" fill="#d3d3d3" stroke="#787878" stroke-width="1.4"/>
<circle cx="989" cy="554.2" r="5.3" fill="#d3d3d3" stroke="#787878" stroke-width="1.4"/>
<rect x="985.7" y="589" width="64" height="23.7" fill="#d6d6d6" stroke="#8f8f8f" stroke-width="1.2"/>
<circle cx="996.7" cy="601" r="7.8" fill="#cfcfcf" stroke="#808080" stroke-width="1.3"/>
<circle cx="1017.4" cy="601" r="7.8" fill="#cfcfcf" stroke="#808080" stroke-width="1.3"/>
<circle cx="1037.7" cy="601" r="7.8" fill="#cfcfcf" stroke="#808080" stroke-width="1.3"/>
<rect x="445.8" y="568.3" width="8.4" height="24.2" fill="#fbfbfb" stroke="none" stroke-width="0"/>
<line x1="445.8" y1="569.6" x2="454.2" y2="569.6" stroke="#b4b4b4" stroke-width="1.5"/>
<line x1="445.8" y1="573.1" x2="454.2" y2="573.1" stroke="#b4b4b4" stroke-width="1.5"/>
<line x1="445.8" y1="576.6" x2="454.2" y2="576.6" stroke="#b4b4b4" stroke-width="1.5"/>
<line x1="445.8" y1="580.1" x2="454.2" y2="580.1" stroke="#b4b4b4" stroke-width="1.5"/>
<line x1="445.8" y1="583.6" x2="454.2" y2="583.6" stroke="#b4b4b4" stroke-width="1.5"/>
<line x1="445.8" y1="587.1" x2="454.2" y2="587.1" stroke="#b4b4b4" stroke-width="1.5"/>
<line x1="445.8" y1="590.6" x2="454.2" y2="590.6" stroke="#b4b4b4" stroke-width="1.5"/>
<rect x="485.8" y="568.3" width="8.4" height="24.2" fill="#fbfbfb" stroke="none" stroke-width="0"/>
<line x1="485.8" y1="569.6" x2="494.2" y2="569.6" stroke="#b4b4b4" stroke-width="1.5"/>
<line x1="485.8" y1="573.1" x2="494.2" y2="573.1" stroke="#b4b4b4" stroke-width="1.5"/>
<line x1="485.8" y1="576.6" x2="494.2" y2="576.6" stroke="#b4b4b4" stroke-width="1.5"/>
<line x1="485.8" y1="580.1" x2="494.2" y2="580.1" stroke="#b4b4b4" stroke-width="1.5"/>
<line x1="485.8" y1="583.6" x2="494.2" y2="583.6" stroke="#b4b4b4" stroke-width="1.5"/>
<line x1="485.8" y1="587.1" x2="494.2" y2="587.1" stroke="#b4b4b4" stroke-width="1.5"/>
<line x1="485.8" y1="590.6" x2="494.2" y2="590.6" stroke="#b4b4b4" stroke-width="1.5"/>
<path d="M435.8,593.3 L495.5,593.3 Q499.2,593.3 499.2,597 L499.2,611.7 L491.7,633.3 L489.2,633 L489.2,610.9 L443.3,604.2 Q437,601 435.8,593.3 Z" fill="#8a8a8a" stroke="none" stroke-width="0"/>
<path d="M365.75,597.5 L333,597.5 Q323,598 321,610 L313,645" fill="none" stroke="#8f8f8f" stroke-width="1.6"/>
<rect x="334.5" y="615" width="15.5" height="10.8" fill="#d3d3d3" stroke="#a5a5a5" stroke-width="1.15"/>
<rect x="334.5" y="625.8" width="15.5" height="10.8" fill="#d3d3d3" stroke="#a5a5a5" stroke-width="1.15"/>
<rect x="334.5" y="636.6" width="15.5" height="10.8" fill="#d3d3d3" stroke="#a5a5a5" stroke-width="1.15"/>
<polygon points="292.5,740 292.5,716.5 301.25,701.5 312.5,701.5 312.5,740" fill="#d3d3d3" stroke="#8c8c8c" stroke-width="1.15"/>
<rect x="312.5" y="647.5" width="37.5" height="7.12" fill="url(#gh)" stroke="#8c8c8c" stroke-width="0.7"/>
<rect x="312.5" y="654.62" width="37.5" height="7.12" fill="url(#gh)" stroke="#8c8c8c" stroke-width="0.7"/>
<rect x="312.5" y="661.73" width="37.5" height="7.12" fill="url(#gh)" stroke="#8c8c8c" stroke-width="0.7"/>
<rect x="312.5" y="668.85" width="37.5" height="7.12" fill="url(#gh)" stroke="#8c8c8c" stroke-width="0.7"/>
<rect x="312.5" y="675.96" width="37.5" height="7.12" fill="url(#gh)" stroke="#8c8c8c" stroke-width="0.7"/>
<rect x="312.5" y="683.08" width="37.5" height="7.12" fill="url(#gh)" stroke="#8c8c8c" stroke-width="0.7"/>
<rect x="312.5" y="690.19" width="37.5" height="7.12" fill="url(#gh)" stroke="#8c8c8c" stroke-width="0.7"/>
<rect x="312.5" y="697.31" width="37.5" height="7.12" fill="url(#gh)" stroke="#8c8c8c" stroke-width="0.7"/>
<rect x="312.5" y="704.42" width="37.5" height="7.12" fill="url(#gh)" stroke="#8c8c8c" stroke-width="0.7"/>
<rect x="312.5" y="711.54" width="37.5" height="7.12" fill="url(#gh)" stroke="#8c8c8c" stroke-width="0.7"/>
<rect x="312.5" y="718.65" width="37.5" height="7.12" fill="url(#gh)" stroke="#8c8c8c" stroke-width="0.7"/>
<rect x="312.5" y="725.77" width="37.5" height="7.12" fill="url(#gh)" stroke="#8c8c8c" stroke-width="0.7"/>
<rect x="312.5" y="732.88" width="37.5" height="7.12" fill="url(#gh)" stroke="#8c8c8c" stroke-width="0.7"/>
<rect x="312.5" y="647.5" width="37.5" height="92.5" fill="none" stroke="#808080" stroke-width="1"/>
<rect x="353.75" y="610.5" width="42" height="7.2" fill="url(#gh)" stroke="#8c8c8c" stroke-width="0.7"/>
<rect x="353.75" y="617.7" width="42" height="7.2" fill="url(#gh)" stroke="#8c8c8c" stroke-width="0.7"/>
<rect x="353.75" y="624.89" width="42" height="7.2" fill="url(#gh)" stroke="#8c8c8c" stroke-width="0.7"/>
<rect x="353.75" y="632.09" width="42" height="7.2" fill="url(#gh)" stroke="#8c8c8c" stroke-width="0.7"/>
<rect x="353.75" y="639.29" width="42" height="7.2" fill="url(#gh)" stroke="#8c8c8c" stroke-width="0.7"/>
<rect x="353.75" y="646.48" width="42" height="7.2" fill="url(#gh)" stroke="#8c8c8c" stroke-width="0.7"/>
<rect x="353.75" y="653.68" width="42" height="7.2" fill="url(#gh)" stroke="#8c8c8c" stroke-width="0.7"/>
<rect x="353.75" y="660.88" width="42" height="7.2" fill="url(#gh)" stroke="#8c8c8c" stroke-width="0.7"/>
<rect x="353.75" y="668.07" width="42" height="7.2" fill="url(#gh)" stroke="#8c8c8c" stroke-width="0.7"/>
<rect x="353.75" y="675.27" width="42" height="7.2" fill="url(#gh)" stroke="#8c8c8c" stroke-width="0.7"/>
<rect x="353.75" y="682.46" width="42" height="7.2" fill="url(#gh)" stroke="#8c8c8c" stroke-width="0.7"/>
<rect x="353.75" y="689.66" width="42" height="7.2" fill="url(#gh)" stroke="#8c8c8c" stroke-width="0.7"/>
<rect x="353.75" y="696.86" width="42" height="7.2" fill="url(#gh)" stroke="#8c8c8c" stroke-width="0.7"/>
<rect x="353.75" y="704.05" width="42" height="7.2" fill="url(#gh)" stroke="#8c8c8c" stroke-width="0.7"/>
<rect x="353.75" y="610.5" width="42" height="100.75" fill="none" stroke="#808080" stroke-width="1"/>
<rect x="399.25" y="610.5" width="43.25" height="7.2" fill="url(#gh)" stroke="#8c8c8c" stroke-width="0.7"/>
<rect x="399.25" y="617.7" width="43.25" height="7.2" fill="url(#gh)" stroke="#8c8c8c" stroke-width="0.7"/>
<rect x="399.25" y="624.89" width="43.25" height="7.2" fill="url(#gh)" stroke="#8c8c8c" stroke-width="0.7"/>
<rect x="399.25" y="632.09" width="43.25" height="7.2" fill="url(#gh)" stroke="#8c8c8c" stroke-width="0.7"/>
<rect x="399.25" y="639.29" width="43.25" height="7.2" fill="url(#gh)" stroke="#8c8c8c" stroke-width="0.7"/>
<rect x="399.25" y="646.48" width="43.25" height="7.2" fill="url(#gh)" stroke="#8c8c8c" stroke-width="0.7"/>
<rect x="399.25" y="653.68" width="43.25" height="7.2" fill="url(#gh)" stroke="#8c8c8c" stroke-width="0.7"/>
<rect x="399.25" y="660.88" width="43.25" height="7.2" fill="url(#gh)" stroke="#8c8c8c" stroke-width="0.7"/>
<rect x="399.25" y="668.07" width="43.25" height="7.2" fill="url(#gh)" stroke="#8c8c8c" stroke-width="0.7"/>
<rect x="399.25" y="675.27" width="43.25" height="7.2" fill="url(#gh)" stroke="#8c8c8c" stroke-width="0.7"/>
<rect x="399.25" y="682.46" width="43.25" height="7.2" fill="url(#gh)" stroke="#8c8c8c" stroke-width="0.7"/>
<rect x="399.25" y="689.66" width="43.25" height="7.2" fill="url(#gh)" stroke="#8c8c8c" stroke-width="0.7"/>
<rect x="399.25" y="696.86" width="43.25" height="7.2" fill="url(#gh)" stroke="#8c8c8c" stroke-width="0.7"/>
<rect x="399.25" y="704.05" width="43.25" height="7.2" fill="url(#gh)" stroke="#8c8c8c" stroke-width="0.7"/>
<rect x="399.25" y="610.5" width="43.25" height="100.75" fill="none" stroke="#808080" stroke-width="1"/>
<rect x="446.25" y="610.5" width="42.5" height="7.2" fill="url(#gh)" stroke="#8c8c8c" stroke-width="0.7"/>
<rect x="446.25" y="617.7" width="42.5" height="7.2" fill="url(#gh)" stroke="#8c8c8c" stroke-width="0.7"/>
<rect x="446.25" y="624.89" width="42.5" height="7.2" fill="url(#gh)" stroke="#8c8c8c" stroke-width="0.7"/>
<rect x="446.25" y="632.09" width="42.5" height="7.2" fill="url(#gh)" stroke="#8c8c8c" stroke-width="0.7"/>
<rect x="446.25" y="639.29" width="42.5" height="7.2" fill="url(#gh)" stroke="#8c8c8c" stroke-width="0.7"/>
<rect x="446.25" y="646.48" width="42.5" height="7.2" fill="url(#gh)" stroke="#8c8c8c" stroke-width="0.7"/>
<rect x="446.25" y="653.68" width="42.5" height="7.2" fill="url(#gh)" stroke="#8c8c8c" stroke-width="0.7"/>
<rect x="446.25" y="660.88" width="42.5" height="7.2" fill="url(#gh)" stroke="#8c8c8c" stroke-width="0.7"/>
<rect x="446.25" y="668.07" width="42.5" height="7.2" fill="url(#gh)" stroke="#8c8c8c" stroke-width="0.7"/>
<rect x="446.25" y="675.27" width="42.5" height="7.2" fill="url(#gh)" stroke="#8c8c8c" stroke-width="0.7"/>
<rect x="446.25" y="682.46" width="42.5" height="7.2" fill="url(#gh)" stroke="#8c8c8c" stroke-width="0.7"/>
<rect x="446.25" y="689.66" width="42.5" height="7.2" fill="url(#gh)" stroke="#8c8c8c" stroke-width="0.7"/>
<rect x="446.25" y="696.86" width="42.5" height="7.2" fill="url(#gh)" stroke="#8c8c8c" stroke-width="0.7"/>
<rect x="446.25" y="704.05" width="42.5" height="7.2" fill="url(#gh)" stroke="#8c8c8c" stroke-width="0.7"/>
<rect x="446.25" y="610.5" width="42.5" height="100.75" fill="none" stroke="#808080" stroke-width="1"/>
<rect x="492.4" y="644" width="30.9" height="41.6" fill="#dadada" stroke="#8c8c8c" stroke-width="1.15"/>
<line x1="492.4" y1="652.32" x2="523.3" y2="652.32" stroke="#868686" stroke-width="1.2"/>
<line x1="492.4" y1="660.64" x2="523.3" y2="660.64" stroke="#868686" stroke-width="1.2"/>
<line x1="492.4" y1="668.96" x2="523.3" y2="668.96" stroke="#868686" stroke-width="1.2"/>
<line x1="492.4" y1="677.28" x2="523.3" y2="677.28" stroke="#868686" stroke-width="1.2"/>
<g transform="translate(581.3 603.21) rotate(1.4)" fill="none" stroke="#9a9a9a" stroke-width="0.8">
<path d="M0,0 L70.72,0 M0,0 L0,10.5 M6.43,0 L6.43,10.5 M12.86,0 L12.86,10.5 M19.29,0 L19.29,10.5 M25.72,0 L25.72,10.5 M32.15,0 L32.15,10.5 M38.58,0 L38.58,10.5 M45,0 L45,10.5 M51.43,0 L51.43,10.5 M57.86,0 L57.86,10.5 M64.29,0 L64.29,10.5 M70.72,0 L70.72,10.5"/>
<rect x="7.53" y="2.6" width="4.23" height="7.1" fill="#e2e2e2"/>
<rect x="8.53" y="4.6" width="2.23" height="2.3" fill="#cfcfcf" stroke-width="0.6"/>
<rect x="13.96" y="2.6" width="4.23" height="7.1" fill="#e2e2e2"/>
<rect x="14.96" y="4.6" width="2.23" height="2.3" fill="#cfcfcf" stroke-width="0.6"/>
<rect x="39.68" y="2.6" width="4.23" height="7.1" fill="#e2e2e2"/>
<rect x="40.68" y="4.6" width="2.23" height="2.3" fill="#cfcfcf" stroke-width="0.6"/>
<rect x="46.1" y="2.6" width="4.23" height="7.1" fill="#e2e2e2"/>
<rect x="47.1" y="4.6" width="2.23" height="2.3" fill="#cfcfcf" stroke-width="0.6"/>
<rect x="52.53" y="2.6" width="4.23" height="7.1" fill="#e2e2e2"/>
<rect x="53.53" y="4.6" width="2.23" height="2.3" fill="#cfcfcf" stroke-width="0.6"/>
</g>
<g transform="translate(660 605.14) rotate(1.4)" fill="none" stroke="#9a9a9a" stroke-width="0.8">
<path d="M0,0 L71.02,0 M0,0 L0,10.5 M6.46,0 L6.46,10.5 M12.91,0 L12.91,10.5 M19.37,0 L19.37,10.5 M25.83,0 L25.83,10.5 M32.28,0 L32.28,10.5 M38.74,0 L38.74,10.5 M45.2,0 L45.2,10.5 M51.65,0 L51.65,10.5 M58.11,0 L58.11,10.5 M64.56,0 L64.56,10.5 M71.02,0 L71.02,10.5"/>
<rect x="7.56" y="2.6" width="4.26" height="7.1" fill="#e2e2e2"/>
<rect x="8.56" y="4.6" width="2.26" height="2.3" fill="#cfcfcf" stroke-width="0.6"/>
<rect x="14.01" y="2.6" width="4.26" height="7.1" fill="#e2e2e2"/>
<rect x="15.01" y="4.6" width="2.26" height="2.3" fill="#cfcfcf" stroke-width="0.6"/>
<rect x="20.47" y="2.6" width="4.26" height="7.1" fill="#e2e2e2"/>
<rect x="21.47" y="4.6" width="2.26" height="2.3" fill="#cfcfcf" stroke-width="0.6"/>
<rect x="52.75" y="2.6" width="4.26" height="7.1" fill="#e2e2e2"/>
<rect x="53.75" y="4.6" width="2.26" height="2.3" fill="#cfcfcf" stroke-width="0.6"/>
<rect x="65.66" y="2.6" width="4.26" height="7.1" fill="#e2e2e2"/>
<rect x="66.66" y="4.6" width="2.26" height="2.3" fill="#cfcfcf" stroke-width="0.6"/>
</g>
<g transform="translate(738.5 607.06) rotate(1.4)" fill="none" stroke="#9a9a9a" stroke-width="0.8">
<path d="M0,0 L71.02,0 M0,0 L0,10.5 M6.46,0 L6.46,10.5 M12.91,0 L12.91,10.5 M19.37,0 L19.37,10.5 M25.83,0 L25.83,10.5 M32.28,0 L32.28,10.5 M38.74,0 L38.74,10.5 M45.2,0 L45.2,10.5 M51.65,0 L51.65,10.5 M58.11,0 L58.11,10.5 M64.56,0 L64.56,10.5 M71.02,0 L71.02,10.5"/>
<rect x="20.47" y="2.6" width="4.26" height="7.1" fill="#e2e2e2"/>
<rect x="21.47" y="4.6" width="2.26" height="2.3" fill="#cfcfcf" stroke-width="0.6"/>
<rect x="26.93" y="2.6" width="4.26" height="7.1" fill="#e2e2e2"/>
<rect x="27.93" y="4.6" width="2.26" height="2.3" fill="#cfcfcf" stroke-width="0.6"/>
<rect x="33.38" y="2.6" width="4.26" height="7.1" fill="#e2e2e2"/>
<rect x="34.38" y="4.6" width="2.26" height="2.3" fill="#cfcfcf" stroke-width="0.6"/>
<rect x="39.84" y="2.6" width="4.26" height="7.1" fill="#e2e2e2"/>
<rect x="40.84" y="4.6" width="2.26" height="2.3" fill="#cfcfcf" stroke-width="0.6"/>
</g>
<g transform="translate(817.5 608.99) rotate(1.4)" fill="none" stroke="#9a9a9a" stroke-width="0.8">
<path d="M0,0 L70.52,0 M0,0 L0,10.5 M6.41,0 L6.41,10.5 M12.82,0 L12.82,10.5 M19.23,0 L19.23,10.5 M25.64,0 L25.64,10.5 M32.06,0 L32.06,10.5 M38.47,0 L38.47,10.5 M44.88,0 L44.88,10.5 M51.29,0 L51.29,10.5 M57.7,0 L57.7,10.5 M64.11,0 L64.11,10.5 M70.52,0 L70.52,10.5"/>
<rect x="1.1" y="2.6" width="4.21" height="7.1" fill="#e2e2e2"/>
<rect x="2.1" y="4.6" width="2.21" height="2.3" fill="#cfcfcf" stroke-width="0.6"/>
<rect x="20.33" y="2.6" width="4.21" height="7.1" fill="#e2e2e2"/>
<rect x="21.33" y="4.6" width="2.21" height="2.3" fill="#cfcfcf" stroke-width="0.6"/>
<rect x="26.74" y="2.6" width="4.21" height="7.1" fill="#e2e2e2"/>
<rect x="27.74" y="4.6" width="2.21" height="2.3" fill="#cfcfcf" stroke-width="0.6"/>
<rect x="45.98" y="2.6" width="4.21" height="7.1" fill="#e2e2e2"/>
<rect x="46.98" y="4.6" width="2.21" height="2.3" fill="#cfcfcf" stroke-width="0.6"/>
</g>
<g transform="translate(896 610.92) rotate(1.4)" fill="none" stroke="#9a9a9a" stroke-width="0.8">
<path d="M0,0 L70.02,0 M0,0 L0,10.5 M6.37,0 L6.37,10.5 M12.73,0 L12.73,10.5 M19.1,0 L19.1,10.5 M25.46,0 L25.46,10.5 M31.83,0 L31.83,10.5 M38.19,0 L38.19,10.5 M44.56,0 L44.56,10.5 M50.92,0 L50.92,10.5 M57.29,0 L57.29,10.5 M63.66,0 L63.66,10.5 M70.02,0 L70.02,10.5"/>
<rect x="13.83" y="2.6" width="4.17" height="7.1" fill="#e2e2e2"/>
<rect x="14.83" y="4.6" width="2.17" height="2.3" fill="#cfcfcf" stroke-width="0.6"/>
<rect x="32.93" y="2.6" width="4.17" height="7.1" fill="#e2e2e2"/>
<rect x="33.93" y="4.6" width="2.17" height="2.3" fill="#cfcfcf" stroke-width="0.6"/>
<rect x="39.29" y="2.6" width="4.17" height="7.1" fill="#e2e2e2"/>
<rect x="40.29" y="4.6" width="2.17" height="2.3" fill="#cfcfcf" stroke-width="0.6"/>
</g>
<g transform="translate(1057.7 478.3) rotate(3.95)" fill="none" stroke="#9a9a9a" stroke-width="0.8">
<path d="M0,0 L71.07,0 M0,0 L0,10 M6.46,0 L6.46,10 M12.92,0 L12.92,10 M19.38,0 L19.38,10 M25.84,0 L25.84,10 M32.3,0 L32.3,10 M38.76,0 L38.76,10 M45.23,0 L45.23,10 M51.69,0 L51.69,10 M58.15,0 L58.15,10 M64.61,0 L64.61,10 M71.07,0 L71.07,10"/>
<rect x="1.1" y="2.6" width="4.26" height="6.6" fill="#e2e2e2"/>
<rect x="2.1" y="4.6" width="2.26" height="1.8" fill="#cfcfcf" stroke-width="0.6"/>
<rect x="7.56" y="2.6" width="4.26" height="6.6" fill="#e2e2e2"/>
<rect x="8.56" y="4.6" width="2.26" height="1.8" fill="#cfcfcf" stroke-width="0.6"/>
<rect x="39.86" y="2.6" width="4.26" height="6.6" fill="#e2e2e2"/>
<rect x="40.86" y="4.6" width="2.26" height="1.8" fill="#cfcfcf" stroke-width="0.6"/>
<rect x="46.33" y="2.6" width="4.26" height="6.6" fill="#e2e2e2"/>
<rect x="47.33" y="4.6" width="2.26" height="1.8" fill="#cfcfcf" stroke-width="0.6"/>
<rect x="52.79" y="2.6" width="4.26" height="6.6" fill="#e2e2e2"/>
<rect x="53.79" y="4.6" width="2.26" height="1.8" fill="#cfcfcf" stroke-width="0.6"/>
</g>
<g transform="translate(1059 516.4) rotate(0)" fill="none" stroke="#9a9a9a" stroke-width="0.8">
<path d="M0,0 L52.5,0 M0,0 L0,9.6 M6.56,0 L6.56,9.6 M13.12,0 L13.12,9.6 M19.69,0 L19.69,9.6 M26.25,0 L26.25,9.6 M32.81,0 L32.81,9.6 M39.38,0 L39.38,9.6 M45.94,0 L45.94,9.6 M52.5,0 L52.5,9.6"/>
<rect x="1.1" y="2.6" width="4.36" height="6.2" fill="#e2e2e2"/>
<rect x="2.1" y="4.6" width="2.36" height="1.4" fill="#cfcfcf" stroke-width="0.6"/>
<rect x="7.66" y="2.6" width="4.36" height="6.2" fill="#e2e2e2"/>
<rect x="8.66" y="4.6" width="2.36" height="1.4" fill="#cfcfcf" stroke-width="0.6"/>
<rect x="14.22" y="2.6" width="4.36" height="6.2" fill="#e2e2e2"/>
<rect x="15.22" y="4.6" width="2.36" height="1.4" fill="#cfcfcf" stroke-width="0.6"/>
<rect x="33.91" y="2.6" width="4.36" height="6.2" fill="#e2e2e2"/>
<rect x="34.91" y="4.6" width="2.36" height="1.4" fill="#cfcfcf" stroke-width="0.6"/>
</g>
<g transform="translate(1056.5 528) rotate(94)">
<g transform="translate(0 0) rotate(0)" fill="none" stroke="#9a9a9a" stroke-width="0.8">
<path d="M0,0 L52,0 M0,0 L0,11 M6.5,0 L6.5,11 M13,0 L13,11 M19.5,0 L19.5,11 M26,0 L26,11 M32.5,0 L32.5,11 M39,0 L39,11 M45.5,0 L45.5,11 M52,0 L52,11"/>
<rect x="1.1" y="2.6" width="4.3" height="7.6" fill="#e2e2e2"/>
<rect x="2.1" y="4.6" width="2.3" height="2.8" fill="#cfcfcf" stroke-width="0.6"/>
<rect x="14.1" y="2.6" width="4.3" height="7.6" fill="#e2e2e2"/>
<rect x="15.1" y="4.6" width="2.3" height="2.8" fill="#cfcfcf" stroke-width="0.6"/>
<rect x="20.6" y="2.6" width="4.3" height="7.6" fill="#e2e2e2"/>
<rect x="21.6" y="4.6" width="2.3" height="2.8" fill="#cfcfcf" stroke-width="0.6"/>
<rect x="40.1" y="2.6" width="4.3" height="7.6" fill="#e2e2e2"/>
<rect x="41.1" y="4.6" width="2.3" height="2.8" fill="#cfcfcf" stroke-width="0.6"/>
<rect x="46.6" y="2.6" width="4.3" height="7.6" fill="#e2e2e2"/>
<rect x="47.6" y="4.6" width="2.3" height="2.8" fill="#cfcfcf" stroke-width="0.6"/>
</g>
</g>
</g>
<line x1="95" y1="787" x2="1198" y2="787" stroke="#c8c8c8" stroke-width="1"/>
<line x1="1198" y1="560" x2="1198" y2="787" stroke="#c8c8c8" stroke-width="1"/>
<defs>
<radialGradient id="ledR" cx="0.42" cy="0.38" r="0.7"><stop offset="0" stop-color="#a81614"/><stop offset="1" stop-color="#4c0505"/></radialGradient>
<radialGradient id="ledG" cx="0.42" cy="0.38" r="0.7"><stop offset="0" stop-color="#35a824"/><stop offset="1" stop-color="#0f5a0c"/></radialGradient>
<radialGradient id="ledGon" cx="0.42" cy="0.38" r="0.7"><stop offset="0" stop-color="#7dff6a"/><stop offset="1" stop-color="#2fe02a"/></radialGradient>
<radialGradient id="ledO" cx="0.42" cy="0.38" r="0.7"><stop offset="0" stop-color="#a8601a"/><stop offset="1" stop-color="#5a2c06"/></radialGradient>
<radialGradient id="ledY" cx="0.42" cy="0.38" r="0.7"><stop offset="0" stop-color="#a8a020"/><stop offset="1" stop-color="#6a6410"/></radialGradient>
<radialGradient id="ledB" cx="0.42" cy="0.38" r="0.7"><stop offset="0" stop-color="#2a3aa8"/><stop offset="1" stop-color="#101a6a"/></radialGradient>
<radialGradient id="ledK" cx="0.42" cy="0.38" r="0.7"><stop offset="0" stop-color="#707070"/><stop offset="1" stop-color="#222222"/></radialGradient>
<linearGradient id="ringon" x1="0.3" y1="0" x2="0.7" y2="1"><stop offset="0" stop-color="#8fd880"/><stop offset="0.5" stop-color="#c4f0b4"/><stop offset="1" stop-color="#ffffff"/></linearGradient>
<linearGradient id="ring2" x1="0" y1="0" x2="0" y2="1"><stop offset="0" stop-color="#3c4a48"/><stop offset="0.6" stop-color="#7d8584"/><stop offset="1" stop-color="#d8d8d8"/></linearGradient>
<linearGradient id="ring" x1="0.3" y1="0" x2="0.7" y2="1"><stop offset="0" stop-color="#3a3434"/><stop offset="0.45" stop-color="#5e5959"/><stop offset="0.72" stop-color="#b0b0b0"/><stop offset="1" stop-color="#ffffff"/></linearGradient>
<linearGradient id="meter" x1="0" y1="0" x2="0" y2="1"><stop offset="0" stop-color="#4a2820"/><stop offset="0.12" stop-color="#4a4030"/><stop offset="0.5" stop-color="#3d4430"/><stop offset="1" stop-color="#1b4a22"/></linearGradient>
<g id="i-bell" fill="#fff"><g transform="translate(10.9 18.8) rotate(-30)"><circle cx="0" cy="-10.9" r="1.25" fill="none" stroke="#fff" stroke-width="0.9"/><path d="M-1.8,-9.8 C-5.4,-8.8 -6.3,-4 -6.5,0 C-6.7,4.4 -7.7,7 -9.7,10 L9.7,10 C7.7,7 6.7,4.4 6.5,0 C6.3,-4 5.4,-8.8 1.8,-9.8 Z"/></g><path d="M16.6,26.5 L19.2,26 L19.4,31 L17.4,31 Z"/><circle cx="18.4" cy="31.7" r="1.7"/></g>
<g id="i-mic" fill="none" stroke="#fff"><rect x="7.9" y="4.9" width="8.6" height="19.1" rx="4.3" fill="#fff" stroke="none"/><path d="M4.6,15.8 L4.6,19.2 A7.45,7.45 0 0 0 19.5,19.2 L19.5,15.8" stroke-width="1.6" stroke-linecap="round"/><path d="M12.05,26.6 L12.05,31" stroke-width="1.7"/><path d="M5.25,31.5 L18.75,31.5" stroke-width="2"/></g>
<g id="i-spk"><path d="M3.1,19.8 L7.3,19.8 L15.8,13.9 L15.8,33 L7.3,26.5 L3.1,26.5 Z" fill="#fff"/><path d="M18.6,17.8 Q23.4,23.4 18.6,29.2" fill="none" stroke="#fff" stroke-width="1.9" stroke-linecap="round"/><path d="M21.8,14.4 Q30.6,23.6 21.8,33" fill="none" stroke="#fff" stroke-width="2.1" stroke-linecap="round"/></g>
<g id="i-note" fill="#fff"><ellipse cx="8.6" cy="28.9" rx="4.5" ry="3.3" transform="rotate(-24 8.6 28.9)"/><path d="M11.6,28.6 L11.6,4.9 L14.2,4.9 C14.8,9.6 21.4,11.4 20.6,17.4 C20.4,18.6 19.8,19.4 18.8,19.8 L17.4,18.6 C19,16.6 17.6,13.6 14.25,12.2 L14.25,28.6 Z"/></g>
<g id="i-clock" fill="none" stroke="#fff"><circle cx="15" cy="21.4" r="8.2" stroke-width="2.7"/><path d="M16.9,16.9 L15.2,21.8 L18.8,21.8" stroke-width="1.2"/><path d="M4.4,12.6 L8,9.6" stroke-width="3.2" stroke-linecap="round"/><path d="M9.2,29.4 L6.4,33.6 M20.8,29.4 L23.6,33.6" stroke-width="1.5" stroke-linecap="round"/><path d="M15,14.8 L15,16 M15,26.8 L15,28 M8.4,21.4 L9.6,21.4 M20.4,21.4 L21.6,21.4" stroke-width="0.8"/></g>
<g id="i-beacon" fill="none" stroke="#fff" stroke-width="1.55"><path d="M7.6,24.8 L7.6,16.6 A5.9,6.1 0 0 1 19.4,16.6 L19.4,24.8"/><path d="M10.6,17.4 Q10.8,14.4 13.2,13.6" stroke-width="1"/><rect x="4.6" y="25.5" width="17.4" height="6.3" rx="1.2"/><path d="M13.1,7.9 L13.1,4.5 M6.75,10.9 L4.9,8.25 M19.5,10.9 L21.4,8.25" stroke-width="1.3" stroke-linecap="round"/></g>
<g id="i-ext"><path d="M5.6,13.6 Q5.6,10.1 9.1,10.1 L13,10.1 Q16.5,10.1 16.5,13.6 L16.5,35.3 L5.6,35.3 Z" fill="#fff"/><rect x="7.5" y="15" width="7.1" height="4.5" fill="#9b0000"/><rect x="9.4" y="5.6" width="3.7" height="5" fill="#fff"/><path d="M3.9,11.2 Q4.4,5.8 10.4,5.4" fill="none" stroke="#fff" stroke-width="1.6"/><path d="M10,4.6 L15,2.6 L16.2,5 L12.8,7" fill="#fff"/><g fill="none" stroke="#fff" stroke-width="2.1"><path d="M20,18.6 A6.2,6.2 0 0 1 30.6,14.6"/><path d="M31.8,19.6 A6.2,6.2 0 0 1 21.2,23.6"/></g><path d="M17.8,16 L22.8,16.2 L20,21 Z" fill="#fff"/><path d="M34,22.2 L29,22 L31.8,17.2 Z" fill="#fff"/></g>
<g id="i-flame"><path d="M5.4,0.3 C6,0.6 6.8,1 7.4,1.6 C8.6,2.8 9.4,4 10.1,5.1 C11.2,6.8 12.2,8.4 12.8,9.7 C13.6,11.4 14.4,13 14.6,15.5 C15,21.6 11.6,25.7 7.4,25.7 C3.2,25.7 0,22.4 0.1,17.4 C0.2,14.8 0.8,12.8 1.6,10.9 C2.4,9.4 3.2,8.2 3.9,7 C4.8,5.6 5.8,4.4 5.8,3.1 C5.8,2 5.5,1 5.4,0.3 Z" fill="#e60009"/><ellipse cx="7.4" cy="19.4" rx="4.9" ry="5.2" fill="#fff"/><circle cx="7.4" cy="18.5" r="4.5" fill="url(#ring2)"/><circle cx="7.4" cy="18.7" r="3" fill="url(#ledR)"/></g>
<g id="i-ring"><circle r="5.1" fill="url(#ring)"/></g>
<g id="i-fac" fill="#fff"><path d="M5.2,33.6 L5.2,31.6 L6.4,31.6 L6.4,12 L11.2,12 L11.2,21.6 L15.4,15.6 L15.4,21.6 L19.8,15.6 L19.8,21.6 L21.8,17.4 L21.8,31.6 L23.2,31.6 L23.2,33.6 Z"/><rect x="6.2" y="10.6" width="5.2" height="1.2" rx="0.5"/><path d="M8.6,9 C7,8.6 7.4,6.4 9.2,6.6 C9.4,4.6 12,4.4 12.6,5.6 C13.6,3.2 17.2,3.6 17.2,6 C19.4,5.8 19.6,8.8 17.6,9 Z"/><g fill="#8b8b8b"><rect x="12.4" y="24" width="2.2" height="2.2"/><rect x="16.6" y="24" width="2.2" height="2.2"/><rect x="12.4" y="27.8" width="2.2" height="2.2"/><rect x="16.6" y="27.8" width="2.2" height="2.2"/></g></g>
</defs>
<rect x="344" y="406.2" width="37.3" height="37.3" rx="5.2" fill="#0eb05c"/>
<use href="#i-bell" x="344" y="406.2"/>
<circle cx="374.3" cy="417.9" r="5.2" fill="url(#ring)"/><circle cx="374.3" cy="417.8" r="2.9" fill="url(#ledG)"/>
<rect x="387.7" y="406.2" width="37.3" height="37.3" rx="5.2" fill="#0eb05c"/>
<use href="#i-mic" x="387.7" y="406.2"/>
<circle cx="418" cy="417.9" r="5.2" fill="url(#ring)"/><circle cx="418" cy="417.8" r="2.9" fill="url(#ledG)"/>
<rect x="344" y="450.2" width="37.3" height="37.3" rx="5.2" fill="#ff962a"/>
<use href="#i-spk" x="344" y="450.2"/>
<circle cx="374.3" cy="461.9" r="5.2" fill="url(#ring)"/><circle cx="374.3" cy="461.8" r="2.9" fill="url(#ledO)"/>
<use href="#i-flame" x="398.5" y="374.8"/>
<text x="414.5" y="396.8" font-size="8" font-weight="bold" fill="#1c1c1c" textLength="8" lengthAdjust="spacingAndGlyphs">2F</text>
<use href="#i-flame" x="398.5" y="456"/>
<text x="414.5" y="478" font-size="8" font-weight="bold" fill="#1c1c1c" textLength="8" lengthAdjust="spacingAndGlyphs">1F</text>
<rect x="469.7" y="480.3" width="37.3" height="37.3" rx="5.2" fill="#0eb05c"/>
<use href="#i-bell" x="469.7" y="480.3"/>
<circle cx="500" cy="492" r="5.2" fill="url(#ring)"/><circle cx="500" cy="491.9" r="2.9" fill="url(#ledG)"/>
<rect x="513.2" y="480.3" width="37.3" height="37.3" rx="5.2" fill="#0eb05c"/>
<use href="#i-mic" x="513.2" y="480.3"/>
<circle cx="543.5" cy="492" r="5.2" fill="url(#ringon)"/><circle cx="543.5" cy="492" r="3.3" fill="url(#ledGon)"/>
<rect x="556.8" y="480.3" width="37.3" height="37.3" rx="5.2" fill="#ff962a"/>
<use href="#i-spk" x="556.8" y="480.3"/>
<circle cx="587.1" cy="492" r="5.2" fill="url(#ring)"/><circle cx="587.1" cy="491.9" r="2.9" fill="url(#ledO)"/>
<use href="#i-flame" x="473.2" y="405.9"/>
<text x="489.2" y="427.9" font-size="8" font-weight="bold" fill="#1c1c1c" textLength="8" lengthAdjust="spacingAndGlyphs">2F</text>
<use href="#i-flame" x="567.3" y="387.2"/>
<text x="583.3" y="409.2" font-size="8" font-weight="bold" fill="#1c1c1c" textLength="8" lengthAdjust="spacingAndGlyphs">3F</text>
<use href="#i-flame" x="523.4" y="431"/>
<text x="539.4" y="453" font-size="8" font-weight="bold" fill="#1c1c1c" textLength="8" lengthAdjust="spacingAndGlyphs">1F</text>
<use href="#i-flame" x="510.8" y="337.3"/>
<use href="#i-flame" x="666.7" y="488"/>
<rect x="761.9" y="369.2" width="37.3" height="37.3" rx="5.2" fill="#9b0000"/>
<use href="#i-ext" x="761.9" y="369.2"/>
<rect x="805.3" y="369.3" width="37.3" height="37.3" rx="5.2" fill="#ffc20e"/>
<use href="#i-beacon" x="805.3" y="369.3"/>
<circle cx="835.6" cy="381" r="5.2" fill="url(#ring)"/><circle cx="835.6" cy="380.9" r="2.9" fill="url(#ledY)"/>
<rect x="762" y="413.3" width="37.3" height="37.3" rx="5.2" fill="#0eb05c"/>
<use href="#i-bell" x="762" y="413.3"/>
<circle cx="792.3" cy="425" r="5.2" fill="url(#ring)"/><circle cx="792.3" cy="424.9" r="2.9" fill="url(#ledG)"/>
<rect x="805.3" y="413.3" width="37.3" height="37.3" rx="5.2" fill="#0eb05c"/>
<use href="#i-mic" x="805.3" y="413.3"/>
<circle cx="835.6" cy="425" r="5.2" fill="url(#ring)"/><circle cx="835.6" cy="424.9" r="2.9" fill="url(#ledG)"/>
<rect x="849" y="412.8" width="37.3" height="37.3" rx="5.2" fill="#0eb05c"/>
<use href="#i-note" x="849" y="412.8"/>
<circle cx="879.3" cy="424.5" r="5.2" fill="url(#ring)"/><circle cx="879.3" cy="424.4" r="2.9" fill="url(#ledG)"/>
<rect x="762" y="456.2" width="37.3" height="37.3" rx="5.2" fill="#0b35b8"/>
<use href="#i-clock" x="762" y="456.2"/>
<circle cx="792.3" cy="467.9" r="5.2" fill="url(#ring)"/><circle cx="792.3" cy="467.8" r="2.9" fill="url(#ledB)"/>
<rect x="805.3" y="456.2" width="37.3" height="37.3" rx="5.2" fill="#ff962a"/>
<use href="#i-spk" x="805.3" y="456.2"/>
<circle cx="835.6" cy="467.9" r="5.2" fill="url(#ring)"/><circle cx="835.6" cy="467.8" r="2.9" fill="url(#ledO)"/>
<use href="#i-flame" x="855.3" y="368.5"/>
<text x="871.3" y="390.5" font-size="8" font-weight="bold" fill="#1c1c1c" textLength="8" lengthAdjust="spacingAndGlyphs">2F</text>
<use href="#i-flame" x="855.3" y="456"/>
<text x="871.3" y="478" font-size="8" font-weight="bold" fill="#1c1c1c" textLength="8" lengthAdjust="spacingAndGlyphs">1F</text>
<rect x="944.2" y="378.3" width="37.3" height="37.3" rx="5.2" fill="#0eb05c"/>
<use href="#i-bell" x="944.2" y="378.3"/>
<circle cx="974.5" cy="390" r="5.2" fill="url(#ring)"/><circle cx="974.5" cy="389.9" r="2.9" fill="url(#ledG)"/>
<rect x="944.2" y="417" width="37.3" height="37.3" rx="5.2" fill="#0eb05c"/>
<use href="#i-mic" x="944.2" y="417"/>
<circle cx="974.5" cy="428.7" r="5.2" fill="url(#ringon)"/><circle cx="974.5" cy="428.7" r="3.3" fill="url(#ledGon)"/>
<rect x="944.2" y="455.7" width="37.3" height="37.3" rx="5.2" fill="#ff962a"/>
<use href="#i-spk" x="944.2" y="455.7"/>
<circle cx="974.5" cy="467.4" r="5.2" fill="url(#ring)"/><circle cx="974.5" cy="467.3" r="2.9" fill="url(#ledO)"/>
<use href="#i-flame" x="955" y="349.5"/>
<use href="#i-flame" x="910.8" y="524.8"/>
<rect x="269.5" y="531.3" width="37.3" height="37.3" rx="5.2" fill="#ff962a"/>
<use href="#i-spk" x="269.5" y="531.3"/>
<circle cx="299.8" cy="543" r="5.2" fill="url(#ring)"/><circle cx="299.8" cy="542.9" r="2.9" fill="url(#ledO)"/>
<rect x="388" y="650" width="37.3" height="37.3" rx="5.2" fill="#ff962a"/>
<use href="#i-spk" x="388" y="650"/>
<circle cx="418.3" cy="661.7" r="5.2" fill="url(#ring)"/><circle cx="418.3" cy="661.6" r="2.9" fill="url(#ledO)"/>
<rect x="838.3" y="684.3" width="37.3" height="37.3" rx="5.2" fill="#ff962a"/>
<use href="#i-spk" x="838.3" y="684.3"/>
<circle cx="868.6" cy="696" r="5.2" fill="url(#ring)"/><circle cx="868.6" cy="695.9" r="2.9" fill="url(#ledO)"/>
<g fill="#ee1c25"><path d="M6.8,129.2 L24,119 L43,128.6 L40.6,135 L24,126.6 L8.2,135.2 Z"/><path d="M8.4,137 L16.3,132.6 L16,143 L24,147.6 L32.1,143 L32.3,132.6 L40.4,136.6 L39.5,145.2 L24,155.6 L9,145.2 Z"/></g>
<text x="46.8" y="149.4" font-size="29.2" font-weight="900" fill="#0a0a0a" textLength="56.4" lengthAdjust="spacingAndGlyphs" style="font-family:'Liberation Sans','Noto Sans CJK KR',sans-serif">샘표</text>
<text y="132.9" font-size="18.4" font-weight="bold" fill="#0a0a0a"><tspan x="762.8" textLength="67.2" lengthAdjust="spacingAndGlyphs">Sempio</tspan> <tspan x="839.8" textLength="62.6" lengthAdjust="spacingAndGlyphs">Icheon</tspan> <tspan x="913.2" textLength="70" lengthAdjust="spacingAndGlyphs">Factory</tspan> <tspan x="995.8" textLength="55" lengthAdjust="spacingAndGlyphs">Public</tspan> <tspan x="1061.2" textLength="127.2" lengthAdjust="spacingAndGlyphs">Broadcasting</tspan></text>
<rect x="888" y="156.5" width="37.3" height="37.3" rx="5.2" fill="#e23d0d"/>
<rect x="931.7" y="156.5" width="37.3" height="37.3" rx="5.2" fill="#e23d0d"/>
<rect x="975.4" y="156.5" width="37.3" height="37.3" rx="5.2" fill="#e23d0d"/>
<rect x="1019.2" y="156.5" width="37.3" height="37.3" rx="5.2" fill="#999999"/>
<rect x="1062.9" y="156.5" width="37.3" height="37.3" rx="5.2" fill="#6b0c6b"/>
<rect x="1106.6" y="156.5" width="37.3" height="37.3" rx="5.2" fill="#6b0c6b"/>
<rect x="1150.4" y="156.5" width="37.3" height="37.3" rx="5.2" fill="#6b0c6b"/>
<text x="893.8" y="175.1" font-size="8.4" font-weight="bold" fill="#fff" textLength="13.4" lengthAdjust="spacingAndGlyphs">EM</text>
<text x="893.8" y="190.5" font-size="8.4" font-weight="bold" fill="#fff" textLength="25.6" lengthAdjust="spacingAndGlyphs">STOP</text>
<circle cx="918.4" cy="167.8" r="5.2" fill="url(#ring)"/><circle cx="918.4" cy="167.7" r="2.9" fill="url(#ledR)"/>
<g transform="translate(931.7 156.5)" fill="#fff"><rect x="4.9" y="7.1" width="2.6" height="12" rx="1.3"/><rect x="7.9" y="3.8" width="2.7" height="14" rx="1.35"/><rect x="11.2" y="3.4" width="2.7" height="14" rx="1.35"/><rect x="14.5" y="5.2" width="2.5" height="13" rx="1.25"/><path d="M4.6,14.4 L17,14.4 L17,18.4 L18.4,14.6 Q19.4,12.8 20.2,14 Q20.8,15 20.2,16.4 L18.4,21 Q16.6,24.9 12.4,24.9 L10.6,24.9 Q4.6,24.9 4.6,19 Z"/></g>
<text x="938" y="190.5" font-size="8.4" font-weight="bold" fill="#fff" textLength="25.6" lengthAdjust="spacingAndGlyphs">STOP</text>
<circle cx="962.1" cy="167.8" r="5.2" fill="url(#ring)"/><circle cx="962.1" cy="167.7" r="2.9" fill="url(#ledR)"/>
<text x="978.8" y="167.7" font-size="8.4" font-weight="bold" fill="#fff" textLength="16.2" lengthAdjust="spacingAndGlyphs">ALL</text>
<g transform="translate(975.4 156.5)"><path d="M3,20.6 L7.2,20.6 L16.4,14.6 L16.4,33.4 L7.2,27.4 L3,27.4 Z" fill="#fff"/><path d="M19.6,18.6 Q25.2,22.8 20.6,27.6" fill="none" stroke="#fff" stroke-width="1.9" stroke-linecap="round"/><path d="M21.8,15.6 Q31,22.6 24.6,29.6" fill="none" stroke="#fff" stroke-width="2" stroke-linecap="round"/><path d="M5.4,14.4 L25.4,34" stroke="#e23d0d" stroke-width="4.6"/><path d="M5.4,14.4 L25.4,34" stroke="#fff" stroke-width="2.2" stroke-linecap="round"/></g>
<circle cx="1005.8" cy="167.8" r="5.2" fill="url(#ring)"/><circle cx="1005.8" cy="167.7" r="2.9" fill="url(#ledR)"/>
<g transform="translate(1019.2 156.5)"><g fill="none" stroke="#fff" stroke-width="5"><path d="M7,17.4 A12,12 0 0 1 27.4,10.6"/><path d="M30.4,20 A12,12 0 0 1 10,26.8"/></g><path d="M33,4.8 L32.4,17.4 L21.6,13 Z" fill="#fff"/><path d="M4.4,32.6 L5,20 L15.8,24.4 Z" fill="#fff"/></g>
<g transform="translate(1081.5 175.1)" fill="#fff"><rect x="-3.1" y="-14.5" width="6.2" height="8" rx="1.5" transform="rotate(0)"/><rect x="-3.1" y="-14.5" width="6.2" height="8" rx="1.5" transform="rotate(45)"/><rect x="-3.1" y="-14.5" width="6.2" height="8" rx="1.5" transform="rotate(90)"/><rect x="-3.1" y="-14.5" width="6.2" height="8" rx="1.5" transform="rotate(135)"/><rect x="-3.1" y="-14.5" width="6.2" height="8" rx="1.5" transform="rotate(180)"/><rect x="-3.1" y="-14.5" width="6.2" height="8" rx="1.5" transform="rotate(225)"/><rect x="-3.1" y="-14.5" width="6.2" height="8" rx="1.5" transform="rotate(270)"/><rect x="-3.1" y="-14.5" width="6.2" height="8" rx="1.5" transform="rotate(315)"/><circle r="10.7"/><circle r="6.4" fill="#6b0c6b"/></g>
<g transform="translate(1125.3 188.2) scale(1 1.24)"><text x="0" y="0" font-size="32" font-weight="bold" fill="#fff" text-anchor="middle">?</text></g>
<g transform="translate(1150.4 156.5)" fill="none" stroke="#fff" stroke-width="3.2" stroke-linejoin="round"><path d="M6.6,13.4 L6.6,8.6 Q6.6,6.6 8.6,6.6 L28.6,6.6 Q30.6,6.6 30.6,8.6 L30.6,28.6 Q30.6,30.6 28.6,30.6 L8.6,30.6 Q6.6,30.6 6.6,28.6 L6.6,23.8"/><path d="M5,18.6 L23,18.6 M17,11.8 L23.6,18.6 L17,25.4" stroke-linecap="round"/></g>
<rect x="19.2" y="356.4" width="60.4" height="16" fill="#f1f0ea" stroke="#cfcfc6" stroke-width="1"/>
<text x="49.4" y="367.3" font-size="7.4" font-weight="bold" fill="#111" text-anchor="middle" textLength="37.4" lengthAdjust="spacingAndGlyphs">Monitoring</text>
<rect x="19.4" y="382" width="28.6" height="78" fill="#f0efe9" stroke="#b9b9b4" stroke-width="1"/>
<line x1="34" y1="393.4" x2="34" y2="447.6" stroke="#1a1a1a" stroke-width="2.4"/>
<rect x="19.6" y="414.4" width="28.2" height="22.4" fill="#ffffff" stroke="#b5b5b5" stroke-width="1"/>
<line x1="27.5" y1="422.2" x2="39.7" y2="422.2" stroke="#3a3a3a" stroke-width="2.9"/>
<line x1="27.5" y1="425.9" x2="39.7" y2="425.9" stroke="#3a3a3a" stroke-width="2.9"/>
<line x1="27.5" y1="429.6" x2="39.7" y2="429.6" stroke="#3a3a3a" stroke-width="2.9"/>
<rect x="51.6" y="382.4" width="27.2" height="76.8" fill="url(#meter)" stroke="#a9a9a9" stroke-width="1.2"/>
<rect x="19.4" y="463.2" width="60.2" height="9.6" fill="#fbfbfb" stroke="#9c9c9c" stroke-width="1" rx="1.6"/>
<text x="78.6" y="471" font-size="7.2" font-weight="bold" fill="#222" text-anchor="end" textLength="26" lengthAdjust="spacingAndGlyphs">-38.0 dB</text>
<rect x="13" y="481.2" width="37.2" height="37.4" rx="6" fill="#898989"/>
<use href="#i-fac" x="13" y="481.2"/>
<text x="41.6" y="512.4" font-size="11.6" fill="#fff" text-anchor="middle">1</text>
<circle cx="43.1" cy="492.8" r="5.2" fill="url(#ring)"/><circle cx="43.1" cy="492.7" r="2.9" fill="url(#ledK)"/>
<rect x="56.7" y="481.2" width="37.2" height="37.4" rx="6" fill="#898989"/>
<use href="#i-fac" x="56.7" y="481.2"/>
<text x="85.3" y="512.4" font-size="11.6" fill="#fff" text-anchor="middle">2</text>
<circle cx="86.8" cy="492.8" r="5.2" fill="url(#ring)"/><circle cx="86.8" cy="492.7" r="2.9" fill="url(#ledK)"/>
<rect x="13" y="525" width="37.2" height="37.4" rx="6" fill="#898989"/>
<use href="#i-fac" x="13" y="525"/>
<text x="41.6" y="556.2" font-size="11.6" fill="#fff" text-anchor="middle">3</text>
<circle cx="43.1" cy="536.6" r="5.2" fill="url(#ring)"/><circle cx="43.1" cy="536.5" r="2.9" fill="url(#ledK)"/>
<rect x="56.7" y="525" width="37.2" height="37.4" rx="6" fill="#898989"/>
<use href="#i-fac" x="56.7" y="525"/>
<text x="85.3" y="556.2" font-size="11.6" fill="#fff" text-anchor="middle">4</text>
<circle cx="86.8" cy="536.6" r="5.2" fill="url(#ring)"/><circle cx="86.8" cy="536.5" r="2.9" fill="url(#ledK)"/>
</svg>
</body></html>
